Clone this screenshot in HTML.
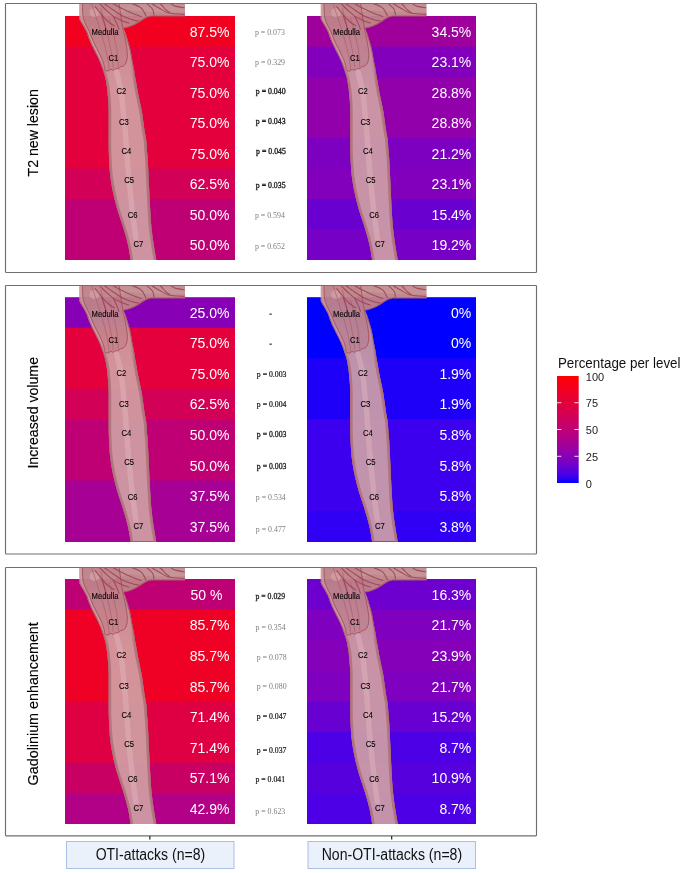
<!DOCTYPE html>
<html><head><meta charset="utf-8"><style>
html,body{margin:0;padding:0;background:#fff;}
body{width:685px;height:873px;overflow:hidden;}
svg{display:block;will-change:transform;}
text{font-family:"Liberation Sans",sans-serif;}
.ser{font-family:"Liberation Serif",serif;}
</style></head><body>
<svg width="685" height="873" viewBox="0 0 685 873">
<defs>
<linearGradient id="cb" x1="0" y1="1" x2="0" y2="0">
<stop offset="0.00" stop-color="#0000FF"/>
<stop offset="0.05" stop-color="#3700F0"/>
<stop offset="0.10" stop-color="#5300E1"/>
<stop offset="0.15" stop-color="#6800D2"/>
<stop offset="0.20" stop-color="#7A00C3"/>
<stop offset="0.25" stop-color="#8800B6"/>
<stop offset="0.30" stop-color="#9500A8"/>
<stop offset="0.35" stop-color="#A0009B"/>
<stop offset="0.40" stop-color="#AC008D"/>
<stop offset="0.45" stop-color="#B50081"/>
<stop offset="0.50" stop-color="#BF0074"/>
<stop offset="0.55" stop-color="#C70069"/>
<stop offset="0.60" stop-color="#CE005D"/>
<stop offset="0.65" stop-color="#D50051"/>
<stop offset="0.70" stop-color="#DC0046"/>
<stop offset="0.75" stop-color="#E3003C"/>
<stop offset="0.80" stop-color="#E90031"/>
<stop offset="0.85" stop-color="#EF0025"/>
<stop offset="0.90" stop-color="#F4001B"/>
<stop offset="0.95" stop-color="#FA000F"/>
<stop offset="1.00" stop-color="#FF0000"/>
</linearGradient>
<linearGradient id="ebc0" gradientUnits="userSpaceOnUse" x1="0" y1="42" x2="0" y2="68"><stop offset="0" stop-color="#b0747c" stop-opacity="0"/><stop offset="1" stop-color="#b0747c" stop-opacity="0.95"/></linearGradient>
<linearGradient id="bgc0" gradientUnits="userSpaceOnUse" x1="0" y1="-13" x2="0" y2="70"><stop offset="0" stop-color="#9c5862" stop-opacity="0.3"/><stop offset="0.6" stop-color="#9c5862" stop-opacity="0.1"/><stop offset="1" stop-color="#9c5862" stop-opacity="0"/></linearGradient>
<clipPath id="c0"><rect x="0" y="-12.0" width="200" height="256.0"/></clipPath>
<linearGradient id="ebc1" gradientUnits="userSpaceOnUse" x1="0" y1="42" x2="0" y2="68"><stop offset="0" stop-color="#b0747c" stop-opacity="0"/><stop offset="1" stop-color="#b0747c" stop-opacity="0.95"/></linearGradient>
<linearGradient id="bgc1" gradientUnits="userSpaceOnUse" x1="0" y1="-13" x2="0" y2="70"><stop offset="0" stop-color="#9c5862" stop-opacity="0.3"/><stop offset="0.6" stop-color="#9c5862" stop-opacity="0.1"/><stop offset="1" stop-color="#9c5862" stop-opacity="0"/></linearGradient>
<clipPath id="c1"><rect x="0" y="-12.0" width="200" height="255.6"/></clipPath>
<linearGradient id="ebc2" gradientUnits="userSpaceOnUse" x1="0" y1="42" x2="0" y2="68"><stop offset="0" stop-color="#b0747c" stop-opacity="0"/><stop offset="1" stop-color="#b0747c" stop-opacity="0.95"/></linearGradient>
<linearGradient id="bgc2" gradientUnits="userSpaceOnUse" x1="0" y1="-13" x2="0" y2="70"><stop offset="0" stop-color="#9c5862" stop-opacity="0.3"/><stop offset="0.6" stop-color="#9c5862" stop-opacity="0.1"/><stop offset="1" stop-color="#9c5862" stop-opacity="0"/></linearGradient>
<clipPath id="c2"><rect x="0" y="-12.0" width="200" height="256.0"/></clipPath>
</defs>
<rect x="5.5" y="3.5" width="531" height="269" rx="0.7" fill="none" stroke="#6f6f6f" stroke-width="1.15"/>
<rect x="65.0" y="16.00" width="170.0" height="244.00" fill="#F10020"/>
<rect x="307.0" y="16.00" width="169.0" height="244.00" fill="#9F009C"/>
<rect x="65.0" y="46.50" width="170.0" height="213.50" fill="#E3003C"/>
<rect x="307.0" y="46.50" width="169.0" height="213.50" fill="#8200BB"/>
<rect x="65.0" y="77.00" width="170.0" height="183.00" fill="#E3003C"/>
<rect x="307.0" y="77.00" width="169.0" height="183.00" fill="#9200AC"/>
<rect x="65.0" y="107.50" width="170.0" height="152.50" fill="#E3003C"/>
<rect x="307.0" y="107.50" width="169.0" height="152.50" fill="#9200AC"/>
<rect x="65.0" y="138.00" width="170.0" height="122.00" fill="#E3003C"/>
<rect x="307.0" y="138.00" width="169.0" height="122.00" fill="#7D00C1"/>
<rect x="65.0" y="168.50" width="170.0" height="91.50" fill="#D20057"/>
<rect x="307.0" y="168.50" width="169.0" height="91.50" fill="#8200BB"/>
<rect x="65.0" y="199.00" width="170.0" height="61.00" fill="#BF0074"/>
<rect x="307.0" y="199.00" width="169.0" height="61.00" fill="#6A00D0"/>
<rect x="65.0" y="229.50" width="170.0" height="30.50" fill="#BF0074"/>
<rect x="307.0" y="229.50" width="169.0" height="30.50" fill="#7600C6"/>
<g transform="translate(65.0,16.0)" clip-path="url(#c0)">
<path d="M14.3,-13.0 C14.3,-10.8 14.2,-2.6 14.3,0.2 C14.3,3.0 14.0,2.2 14.6,3.7 C15.2,5.2 16.9,7.5 18.0,9.4 C19.1,11.3 20.3,13.3 21.2,15.2 C22.1,17.1 22.5,19.0 23.2,20.9 C23.9,22.8 24.7,24.7 25.5,26.6 C26.3,28.5 27.3,30.4 28.3,32.3 C29.2,34.2 30.3,36.2 31.2,38.1 C32.2,40.0 33.1,41.9 34.0,43.8 C34.9,45.7 35.7,47.8 36.4,49.7 C37.1,51.6 37.8,53.5 38.4,55.4 C39.0,57.3 39.7,59.3 40.2,61.2 C40.7,63.1 41.0,65.0 41.3,66.9 C41.6,68.8 42.0,70.7 42.2,72.6 C42.4,74.5 42.5,76.4 42.7,78.3 C42.9,80.2 43.1,81.4 43.3,84.0 C43.5,86.6 43.6,90.3 43.7,94.0 C43.8,97.7 43.7,102.2 43.7,105.9 C43.7,109.6 43.7,111.5 43.7,116.2 C43.7,120.9 43.7,128.5 43.8,134.0 C43.9,139.5 44.1,144.5 44.4,149.0 C44.7,153.5 44.8,156.4 45.4,161.0 C46.0,165.6 46.9,171.1 48.1,176.6 C49.3,182.1 50.8,188.2 52.5,194.0 C54.2,199.8 56.5,205.8 58.3,211.6 C60.1,217.4 61.8,223.3 63.1,229.0 C64.4,234.7 65.5,243.2 66.0,246.0 L91.6,246.0 C91.1,243.2 89.6,234.7 88.7,229.0 C87.8,223.3 87.0,217.4 86.4,211.6 C85.8,205.8 85.5,199.8 85.2,194.0 C84.8,188.2 84.6,182.4 84.3,176.6 C84.0,170.8 83.8,164.8 83.5,159.0 C83.2,153.2 82.9,145.7 82.6,141.5 C82.3,137.3 82.1,136.9 81.9,134.0 C81.7,131.1 81.5,127.0 81.2,124.0 C80.8,121.0 80.3,119.2 79.8,116.2 C79.3,113.2 78.8,109.4 78.3,105.9 C77.8,102.5 77.4,99.0 76.8,95.5 C76.2,92.0 75.4,88.6 74.7,85.2 C74.0,81.8 73.2,78.3 72.6,74.9 C72.0,71.5 71.3,67.2 70.8,64.6 C70.3,61.9 70.1,61.1 69.8,59.0 C69.5,56.9 69.2,54.3 68.8,52.0 C68.4,49.7 67.8,47.3 67.4,45.0 C67.0,42.7 66.7,40.6 66.3,38.4 C65.9,36.1 65.5,33.8 64.9,31.5 C64.3,29.2 63.6,26.9 62.9,24.6 C62.2,22.3 61.5,19.8 60.8,17.7 C60.0,15.6 58.8,13.1 58.4,12.2 C61,11.6 65,10.6 68.5,9 C72,7.4 75,5.5 78,3.3 C80.5,1.5 82.5,0.3 86,0 L120,0 L120,-13 Z" fill="#d0a2a5" fill-opacity="0.91"/>
<path d="M14.3,-13.0 C14.3,-10.8 14.2,-2.6 14.3,0.2 C14.3,3.0 14.0,2.2 14.6,3.7 C15.2,5.2 16.9,7.5 18.0,9.4 C19.1,11.3 20.3,13.3 21.2,15.2 C22.1,17.1 22.5,19.0 23.2,20.9 C23.9,22.8 24.7,24.7 25.5,26.6 C26.3,28.5 27.3,30.4 28.3,32.3 C29.2,34.2 30.3,36.2 31.2,38.1 C32.2,40.0 33.1,41.9 34.0,43.8 C34.9,45.7 35.7,47.8 36.4,49.7 C37.1,51.6 37.8,53.5 38.4,55.4 C39.0,57.3 39.7,59.3 40.2,61.2 C40.7,63.1 41.0,65.0 41.3,66.9 C41.6,68.8 42.0,70.7 42.2,72.6 C42.4,74.5 42.5,76.4 42.7,78.3 C42.9,80.2 43.1,81.4 43.3,84.0 C43.5,86.6 43.6,90.3 43.7,94.0 C43.8,97.7 43.7,102.2 43.7,105.9 C43.7,109.6 43.7,111.5 43.7,116.2 C43.7,120.9 43.7,128.5 43.8,134.0 C43.9,139.5 44.1,144.5 44.4,149.0 C44.7,153.5 44.8,156.4 45.4,161.0 C46.0,165.6 46.9,171.1 48.1,176.6 C49.3,182.1 50.8,188.2 52.5,194.0 C54.2,199.8 56.5,205.8 58.3,211.6 C60.1,217.4 61.8,223.3 63.1,229.0 C64.4,234.7 65.5,243.2 66.0,246.0 L91.6,246.0 C91.1,243.2 89.6,234.7 88.7,229.0 C87.8,223.3 87.0,217.4 86.4,211.6 C85.8,205.8 85.5,199.8 85.2,194.0 C84.8,188.2 84.6,182.4 84.3,176.6 C84.0,170.8 83.8,164.8 83.5,159.0 C83.2,153.2 82.9,145.7 82.6,141.5 C82.3,137.3 82.1,136.9 81.9,134.0 C81.7,131.1 81.5,127.0 81.2,124.0 C80.8,121.0 80.3,119.2 79.8,116.2 C79.3,113.2 78.8,109.4 78.3,105.9 C77.8,102.5 77.4,99.0 76.8,95.5 C76.2,92.0 75.4,88.6 74.7,85.2 C74.0,81.8 73.2,78.3 72.6,74.9 C72.0,71.5 71.3,67.2 70.8,64.6 C70.3,61.9 70.1,61.1 69.8,59.0 C69.5,56.9 69.2,54.3 68.8,52.0 C68.4,49.7 67.8,47.3 67.4,45.0 C67.0,42.7 66.7,40.6 66.3,38.4 C65.9,36.1 65.5,33.8 64.9,31.5 C64.3,29.2 63.6,26.9 62.9,24.6 C62.2,22.3 61.5,19.8 60.8,17.7 C60.0,15.6 58.8,13.1 58.4,12.2 C61,11.6 65,10.6 68.5,9 C72,7.4 75,5.5 78,3.3 C80.5,1.5 82.5,0.3 86,0 L120,0 L120,-13 Z" fill="url(#bgc0)"/>
<ellipse cx="29.5" cy="-3.5" rx="5" ry="4.5" fill="#e6c3c7" fill-opacity="0.55"/>
<path d="M50,-2 C55,3 57,9 58.4,12.2 C61,11.6 65,10.6 68.5,9 C72,7.4 75,5.5 78,3.3 C80.5,1.5 82.5,0.3 86,0 L120,0 L120,-4 C100,-3 80,-4 65,-6 Z" fill="#b46c76" fill-opacity="0.3"/>
<path d="M14.3,-13.0 C14.3,-10.8 14.2,-2.6 14.3,0.2 C14.3,3.0 14.0,2.2 14.6,3.7 C15.2,5.2 16.9,7.5 18.0,9.4 C19.1,11.3 20.3,13.3 21.2,15.2 C22.1,17.1 22.5,19.0 23.2,20.9 C23.9,22.8 24.7,24.7 25.5,26.6 C26.3,28.5 27.3,30.4 28.3,32.3 C29.2,34.2 30.3,36.2 31.2,38.1 C32.2,40.0 33.1,41.9 34.0,43.8 C34.9,45.7 35.7,47.8 36.4,49.7 C37.1,51.6 38.1,54.5 38.4,55.4 L39.6,54.3 C39.5,53.5 39.6,51.5 39.2,49.7 C38.8,48.0 38.0,45.7 37.3,43.8 C36.5,41.9 35.6,40.0 34.7,38.1 C33.8,36.2 32.7,34.2 31.7,32.3 C30.7,30.4 29.7,28.5 28.8,26.6 C27.9,24.7 27.2,22.8 26.4,20.9 C25.6,19.0 25.2,17.3 24.2,15.2 C23.2,13.0 21.5,10.5 20.5,8.0 C19.5,5.5 18.5,3.5 18.0,0.0 C17.5,-3.5 17.6,-10.8 17.5,-13.0 Z" fill="#e8c4c8" fill-opacity="0.2"/>
<path d="M17.5,-13.0 C17.6,-10.8 17.5,-3.5 18.0,0.0 C18.5,3.5 19.5,5.5 20.5,8.0 C21.5,10.5 23.2,13.0 24.2,15.2 C25.2,17.3 25.6,19.0 26.4,20.9 C27.2,22.8 27.9,24.7 28.8,26.6 C29.7,28.5 30.7,30.4 31.7,32.3 C32.7,34.2 33.8,36.2 34.7,38.1 C35.6,40.0 36.5,41.9 37.3,43.8 C38.0,45.7 38.8,48.0 39.2,49.7 C39.6,51.5 39.5,53.5 39.6,54.3 Q42,55.5 44,54.8 Q45,53 46.1,53.3 Q47.5,54.8 49.2,53.8 Q51,52 52.3,52.8 Q54,52.5 55.4,50.7 Q57,50.8 58.5,49.7 Q60.5,48.5 61,46.6 L61.0,46.6 C61.2,45.9 61.9,44.4 62.1,42.5 C62.3,40.6 62.4,38.1 62.1,35.2 C61.8,32.3 61.3,29.1 60.5,24.9 C59.7,20.7 58.6,16.3 57.5,10.0 C56.4,3.7 54.6,-9.2 54.0,-13.0 Z" fill="#b06670" fill-opacity="0.26" stroke="#a65660" stroke-width="1.0"/>
<path d="M26.5,-12.5 Q44.5,39.4 44.0,53.8" fill="none" stroke="#ac5c66" stroke-width="0.8" stroke-opacity="0.8"/>
<path d="M35.8,-8.0 Q48.0,38.1 48.1,51.7" fill="none" stroke="#ac5c66" stroke-width="0.8" stroke-opacity="0.8"/>
<path d="M44.0,2.0 Q53.8,33.4 53.3,51.2" fill="none" stroke="#ac5c66" stroke-width="0.8" stroke-opacity="0.8"/>
<path d="M51.6,56.0 C52.3,59.2 54.9,68.4 56.0,75.0 C57.1,81.6 57.6,88.7 58.3,95.5 C59.0,102.3 59.8,109.6 60.3,116.0 C60.8,122.4 61.0,126.8 61.6,134.0 C62.1,141.2 62.7,149.0 63.6,159.0 C64.5,169.0 66.0,183.5 67.2,194.0 C68.4,204.5 70.2,217.3 70.8,222.0" fill="none" stroke="#e6bcc1" stroke-width="5.5" stroke-opacity="0.4" stroke-linecap="round"/>
<path d="M14.7,0.2 C14.7,0.8 14.4,2.2 15.0,3.7 C15.6,5.2 17.3,7.5 18.4,9.4 C19.5,11.3 20.7,13.3 21.6,15.2 C22.5,17.1 22.9,19.0 23.6,20.9 C24.3,22.8 25.1,24.7 25.9,26.6 C26.7,28.5 27.7,30.4 28.7,32.3 C29.6,34.2 30.7,36.2 31.6,38.1 C32.6,40.0 33.5,41.9 34.4,43.8 C35.3,45.7 36.1,47.8 36.8,49.7 C37.5,51.6 38.2,53.5 38.8,55.4 C39.4,57.3 40.1,59.3 40.6,61.2 C41.1,63.1 41.4,65.0 41.7,66.9 C42.0,68.8 42.4,70.7 42.6,72.6 C42.8,74.5 42.9,76.4 43.1,78.3 C43.3,80.2 43.5,81.4 43.7,84.0 C43.9,86.6 44.0,90.3 44.1,94.0 C44.2,97.7 44.1,102.2 44.1,105.9 C44.1,109.6 44.1,111.5 44.1,116.2 C44.1,120.9 44.1,128.5 44.2,134.0 C44.3,139.5 44.5,144.5 44.8,149.0 C45.1,153.5 45.2,156.4 45.8,161.0 C46.4,165.6 47.3,171.1 48.5,176.6 C49.7,182.1 51.2,188.2 52.9,194.0 C54.6,199.8 56.9,205.8 58.7,211.6 C60.5,217.4 62.2,223.3 63.5,229.0 C64.8,234.7 65.9,243.2 66.4,246.0" fill="none" stroke="#9e5660" stroke-width="1.0" stroke-opacity="0.9"/>
<path d="M91.2,246.0 C90.7,243.2 89.2,234.7 88.3,229.0 C87.4,223.3 86.6,217.4 86.0,211.6 C85.4,205.8 85.1,199.8 84.8,194.0 C84.4,188.2 84.2,182.4 83.9,176.6 C83.6,170.8 83.4,164.8 83.1,159.0 C82.8,153.2 82.5,145.7 82.2,141.5 C81.9,137.3 81.7,136.9 81.5,134.0 C81.3,131.1 81.1,127.0 80.8,124.0 C80.4,121.0 79.9,119.2 79.4,116.2 C78.9,113.2 78.4,109.4 77.9,105.9 C77.4,102.5 77.0,99.0 76.4,95.5 C75.8,92.0 75.0,88.6 74.3,85.2 C73.6,81.8 72.8,78.3 72.2,74.9 C71.5,71.5 70.9,67.2 70.4,64.6 C69.9,61.9 69.7,61.1 69.4,59.0 C69.1,56.9 68.8,54.3 68.4,52.0 C68.0,49.7 67.4,47.3 67.0,45.0 C66.6,42.7 66.3,40.6 65.9,38.4 C65.5,36.1 65.1,33.8 64.5,31.5 C63.9,29.2 63.2,26.9 62.5,24.6 C61.8,22.3 60.8,18.9 60.4,17.7" fill="none" stroke="#9e5660" stroke-width="1.0" stroke-opacity="0.9"/>
<path d="M32.5,38.1 C32.9,39.0 34.4,41.9 35.2,43.8 C36.1,45.7 36.9,47.8 37.7,49.7 C38.4,51.6 39.0,53.5 39.7,55.4 C40.3,57.3 41.0,59.3 41.5,61.2 C41.9,63.1 42.2,65.0 42.5,66.9 C42.9,68.8 43.2,70.7 43.5,72.6 C43.7,74.5 43.8,76.4 44.0,78.3 C44.1,80.2 44.4,81.4 44.5,84.0 C44.7,86.6 44.9,90.3 45.0,94.0 C45.0,97.7 45.0,102.2 45.0,105.9 C45.0,109.6 44.9,111.5 45.0,116.2 C45.0,120.9 44.9,128.5 45.0,134.0 C45.2,139.5 45.4,144.5 45.7,149.0 C45.9,153.5 46.0,156.4 46.7,161.0 C47.3,165.6 48.2,171.1 49.3,176.6 C50.5,182.1 52.0,188.2 53.8,194.0 C55.5,199.8 57.8,205.8 59.5,211.6 C61.3,217.4 63.1,223.3 64.3,229.0 C65.6,234.7 66.8,243.2 67.2,246.0" fill="none" stroke="url(#ebc0)" stroke-width="2.5"/>
<path d="M90.3,246.0 C89.8,243.2 88.3,234.7 87.4,229.0 C86.5,223.3 85.7,217.4 85.1,211.6 C84.5,205.8 84.2,199.8 83.9,194.0 C83.5,188.2 83.3,182.4 83.0,176.6 C82.7,170.8 82.5,164.8 82.2,159.0 C81.9,153.2 81.6,145.7 81.3,141.5 C81.0,137.3 80.8,136.9 80.6,134.0 C80.4,131.1 80.2,127.0 79.9,124.0 C79.5,121.0 79.0,119.2 78.5,116.2 C78.0,113.2 77.5,109.4 77.0,105.9 C76.5,102.5 76.1,99.0 75.5,95.5 C74.9,92.0 74.1,88.6 73.4,85.2 C72.7,81.8 71.9,78.3 71.3,74.9 C70.7,71.5 70.0,67.2 69.5,64.6 C69.0,61.9 68.8,61.1 68.5,59.0 C68.2,56.9 67.9,54.3 67.5,52.0 C67.1,49.7 66.5,47.3 66.1,45.0 C65.7,42.7 65.2,39.5 65.0,38.4" fill="none" stroke="url(#ebc0)" stroke-width="2.6"/>
<path d="M58.4,12.2 C61,11.6 65,10.6 68.5,9 C72,7.4 75,5.5 78,3.3 C80.5,1.5 82.5,0.3 86,0 L120,0" fill="none" stroke="#ac5c66" stroke-width="1.2"/>
<path d="M30.0,-9.6 C31.0,-8.4 33.7,-4.7 35.8,-2.3 C37.9,0.1 40.1,2.9 42.4,5.0 C44.7,7.1 48.5,9.2 49.7,10.1" fill="none" stroke="#a03e50" stroke-width="1.1" stroke-opacity="0.85"/>
<path d="M33.0,-13.0 C33.4,-12.8 33.8,-13.0 35.1,-11.8 C36.4,-10.6 38.7,-8.1 41.0,-6.0 C43.3,-3.9 46.2,-1.2 49.0,0.6 C51.8,2.4 55.2,3.9 57.7,5.0 C60.2,6.1 63.2,6.8 64.3,7.2" fill="none" stroke="#a03e50" stroke-width="1.1" stroke-opacity="0.85"/>
<path d="M38.0,-13.0 C38.4,-12.8 38.5,-13.0 40.2,-11.8 C41.9,-10.6 45.3,-8.0 48.2,-6.0 C51.1,-4.0 54.4,-1.8 57.7,-0.1 C61.0,1.6 65.3,3.0 68.0,3.9 C70.7,4.8 72.8,4.8 73.8,5.0" fill="none" stroke="#a03e50" stroke-width="1.1" stroke-opacity="0.85"/>
<path d="M47.0,-13.0 C47.3,-12.8 47.3,-12.7 49.0,-11.8 C50.7,-10.9 54.1,-8.9 57.0,-7.4 C59.9,-5.9 63.2,-4.3 66.5,-3.0 C69.8,-1.7 75.0,0.0 76.7,0.6" fill="none" stroke="#a03e50" stroke-width="1.1" stroke-opacity="0.85"/>
<path d="M64.0,-13.0 C64.4,-12.9 64.9,-13.1 66.5,-12.5 C68.1,-11.9 72.0,-10.6 73.8,-9.6 C75.6,-8.6 76.2,-8.3 77.4,-6.7 C78.6,-5.1 80.4,-1.2 81.0,-0.1" fill="none" stroke="#a03e50" stroke-width="1.1" stroke-opacity="0.85"/>
<path d="M81.0,-13.0 C81.2,-12.8 81.4,-12.9 82.5,-11.8 C83.6,-10.8 86.5,-8.5 87.6,-6.7 C88.7,-4.9 88.8,-1.9 89.0,-0.9" fill="none" stroke="#a03e50" stroke-width="1.1" stroke-opacity="0.85"/>
<path d="M86.0,-13.0 C86.3,-12.8 86.1,-12.7 87.6,-11.8 C89.1,-10.9 92.2,-8.9 94.9,-7.4 C97.6,-5.9 99.6,-4.0 103.7,-3.0 C107.8,-2.0 117.0,-1.8 119.7,-1.6" fill="none" stroke="#a03e50" stroke-width="1.1" stroke-opacity="0.85"/>
<path d="M94.0,-13.0 C94.5,-12.6 95.8,-11.7 97.0,-10.5 C98.2,-9.3 99.7,-7.2 101.0,-6.0 C102.3,-4.8 104.3,-3.9 105.0,-3.5" fill="none" stroke="#a03e50" stroke-width="1.1" stroke-opacity="0.85"/>
<path d="M105.0,-13.0 C105.3,-12.8 105.6,-12.4 106.6,-11.8 C107.6,-11.2 108.8,-10.2 111.0,-9.6 C113.2,-9.0 118.2,-8.4 119.7,-8.2" fill="none" stroke="#a03e50" stroke-width="1.1" stroke-opacity="0.85"/>
<path d="M36.6,-0.9 C37.1,0.6 38.8,5.5 39.5,7.9 C40.2,10.3 40.8,12.7 41.0,13.7" fill="none" stroke="#a03e50" stroke-width="1.1" stroke-opacity="0.85"/>
<path d="M48.2,-0.1 C48.8,1.2 50.9,5.6 51.9,7.9 C52.9,10.2 53.6,12.7 54.0,13.7" fill="none" stroke="#a03e50" stroke-width="1.1" stroke-opacity="0.85"/>
</g>
<g transform="translate(306.5,16.0)" clip-path="url(#c0)">
<path d="M14.3,-13.0 C14.3,-10.8 14.2,-2.6 14.3,0.2 C14.3,3.0 14.0,2.2 14.6,3.7 C15.2,5.2 16.9,7.5 18.0,9.4 C19.1,11.3 20.3,13.3 21.2,15.2 C22.1,17.1 22.5,19.0 23.2,20.9 C23.9,22.8 24.7,24.7 25.5,26.6 C26.3,28.5 27.3,30.4 28.3,32.3 C29.2,34.2 30.3,36.2 31.2,38.1 C32.2,40.0 33.1,41.9 34.0,43.8 C34.9,45.7 35.7,47.8 36.4,49.7 C37.1,51.6 37.8,53.5 38.4,55.4 C39.0,57.3 39.7,59.3 40.2,61.2 C40.7,63.1 41.0,65.0 41.3,66.9 C41.6,68.8 42.0,70.7 42.2,72.6 C42.4,74.5 42.5,76.4 42.7,78.3 C42.9,80.2 43.1,81.4 43.3,84.0 C43.5,86.6 43.6,90.3 43.7,94.0 C43.8,97.7 43.7,102.2 43.7,105.9 C43.7,109.6 43.7,111.5 43.7,116.2 C43.7,120.9 43.7,128.5 43.8,134.0 C43.9,139.5 44.1,144.5 44.4,149.0 C44.7,153.5 44.8,156.4 45.4,161.0 C46.0,165.6 46.9,171.1 48.1,176.6 C49.3,182.1 50.8,188.2 52.5,194.0 C54.2,199.8 56.5,205.8 58.3,211.6 C60.1,217.4 61.8,223.3 63.1,229.0 C64.4,234.7 65.5,243.2 66.0,246.0 L91.6,246.0 C91.1,243.2 89.6,234.7 88.7,229.0 C87.8,223.3 87.0,217.4 86.4,211.6 C85.8,205.8 85.5,199.8 85.2,194.0 C84.8,188.2 84.6,182.4 84.3,176.6 C84.0,170.8 83.8,164.8 83.5,159.0 C83.2,153.2 82.9,145.7 82.6,141.5 C82.3,137.3 82.1,136.9 81.9,134.0 C81.7,131.1 81.5,127.0 81.2,124.0 C80.8,121.0 80.3,119.2 79.8,116.2 C79.3,113.2 78.8,109.4 78.3,105.9 C77.8,102.5 77.4,99.0 76.8,95.5 C76.2,92.0 75.4,88.6 74.7,85.2 C74.0,81.8 73.2,78.3 72.6,74.9 C72.0,71.5 71.3,67.2 70.8,64.6 C70.3,61.9 70.1,61.1 69.8,59.0 C69.5,56.9 69.2,54.3 68.8,52.0 C68.4,49.7 67.8,47.3 67.4,45.0 C67.0,42.7 66.7,40.6 66.3,38.4 C65.9,36.1 65.5,33.8 64.9,31.5 C64.3,29.2 63.6,26.9 62.9,24.6 C62.2,22.3 61.5,19.8 60.8,17.7 C60.0,15.6 58.8,13.1 58.4,12.2 C61,11.6 65,10.6 68.5,9 C72,7.4 75,5.5 78,3.3 C80.5,1.5 82.5,0.3 86,0 L120,0 L120,-13 Z" fill="#d0a2a5" fill-opacity="0.91"/>
<path d="M14.3,-13.0 C14.3,-10.8 14.2,-2.6 14.3,0.2 C14.3,3.0 14.0,2.2 14.6,3.7 C15.2,5.2 16.9,7.5 18.0,9.4 C19.1,11.3 20.3,13.3 21.2,15.2 C22.1,17.1 22.5,19.0 23.2,20.9 C23.9,22.8 24.7,24.7 25.5,26.6 C26.3,28.5 27.3,30.4 28.3,32.3 C29.2,34.2 30.3,36.2 31.2,38.1 C32.2,40.0 33.1,41.9 34.0,43.8 C34.9,45.7 35.7,47.8 36.4,49.7 C37.1,51.6 37.8,53.5 38.4,55.4 C39.0,57.3 39.7,59.3 40.2,61.2 C40.7,63.1 41.0,65.0 41.3,66.9 C41.6,68.8 42.0,70.7 42.2,72.6 C42.4,74.5 42.5,76.4 42.7,78.3 C42.9,80.2 43.1,81.4 43.3,84.0 C43.5,86.6 43.6,90.3 43.7,94.0 C43.8,97.7 43.7,102.2 43.7,105.9 C43.7,109.6 43.7,111.5 43.7,116.2 C43.7,120.9 43.7,128.5 43.8,134.0 C43.9,139.5 44.1,144.5 44.4,149.0 C44.7,153.5 44.8,156.4 45.4,161.0 C46.0,165.6 46.9,171.1 48.1,176.6 C49.3,182.1 50.8,188.2 52.5,194.0 C54.2,199.8 56.5,205.8 58.3,211.6 C60.1,217.4 61.8,223.3 63.1,229.0 C64.4,234.7 65.5,243.2 66.0,246.0 L91.6,246.0 C91.1,243.2 89.6,234.7 88.7,229.0 C87.8,223.3 87.0,217.4 86.4,211.6 C85.8,205.8 85.5,199.8 85.2,194.0 C84.8,188.2 84.6,182.4 84.3,176.6 C84.0,170.8 83.8,164.8 83.5,159.0 C83.2,153.2 82.9,145.7 82.6,141.5 C82.3,137.3 82.1,136.9 81.9,134.0 C81.7,131.1 81.5,127.0 81.2,124.0 C80.8,121.0 80.3,119.2 79.8,116.2 C79.3,113.2 78.8,109.4 78.3,105.9 C77.8,102.5 77.4,99.0 76.8,95.5 C76.2,92.0 75.4,88.6 74.7,85.2 C74.0,81.8 73.2,78.3 72.6,74.9 C72.0,71.5 71.3,67.2 70.8,64.6 C70.3,61.9 70.1,61.1 69.8,59.0 C69.5,56.9 69.2,54.3 68.8,52.0 C68.4,49.7 67.8,47.3 67.4,45.0 C67.0,42.7 66.7,40.6 66.3,38.4 C65.9,36.1 65.5,33.8 64.9,31.5 C64.3,29.2 63.6,26.9 62.9,24.6 C62.2,22.3 61.5,19.8 60.8,17.7 C60.0,15.6 58.8,13.1 58.4,12.2 C61,11.6 65,10.6 68.5,9 C72,7.4 75,5.5 78,3.3 C80.5,1.5 82.5,0.3 86,0 L120,0 L120,-13 Z" fill="url(#bgc0)"/>
<ellipse cx="29.5" cy="-3.5" rx="5" ry="4.5" fill="#e6c3c7" fill-opacity="0.55"/>
<path d="M50,-2 C55,3 57,9 58.4,12.2 C61,11.6 65,10.6 68.5,9 C72,7.4 75,5.5 78,3.3 C80.5,1.5 82.5,0.3 86,0 L120,0 L120,-4 C100,-3 80,-4 65,-6 Z" fill="#b46c76" fill-opacity="0.3"/>
<path d="M14.3,-13.0 C14.3,-10.8 14.2,-2.6 14.3,0.2 C14.3,3.0 14.0,2.2 14.6,3.7 C15.2,5.2 16.9,7.5 18.0,9.4 C19.1,11.3 20.3,13.3 21.2,15.2 C22.1,17.1 22.5,19.0 23.2,20.9 C23.9,22.8 24.7,24.7 25.5,26.6 C26.3,28.5 27.3,30.4 28.3,32.3 C29.2,34.2 30.3,36.2 31.2,38.1 C32.2,40.0 33.1,41.9 34.0,43.8 C34.9,45.7 35.7,47.8 36.4,49.7 C37.1,51.6 38.1,54.5 38.4,55.4 L39.6,54.3 C39.5,53.5 39.6,51.5 39.2,49.7 C38.8,48.0 38.0,45.7 37.3,43.8 C36.5,41.9 35.6,40.0 34.7,38.1 C33.8,36.2 32.7,34.2 31.7,32.3 C30.7,30.4 29.7,28.5 28.8,26.6 C27.9,24.7 27.2,22.8 26.4,20.9 C25.6,19.0 25.2,17.3 24.2,15.2 C23.2,13.0 21.5,10.5 20.5,8.0 C19.5,5.5 18.5,3.5 18.0,0.0 C17.5,-3.5 17.6,-10.8 17.5,-13.0 Z" fill="#e8c4c8" fill-opacity="0.2"/>
<path d="M17.5,-13.0 C17.6,-10.8 17.5,-3.5 18.0,0.0 C18.5,3.5 19.5,5.5 20.5,8.0 C21.5,10.5 23.2,13.0 24.2,15.2 C25.2,17.3 25.6,19.0 26.4,20.9 C27.2,22.8 27.9,24.7 28.8,26.6 C29.7,28.5 30.7,30.4 31.7,32.3 C32.7,34.2 33.8,36.2 34.7,38.1 C35.6,40.0 36.5,41.9 37.3,43.8 C38.0,45.7 38.8,48.0 39.2,49.7 C39.6,51.5 39.5,53.5 39.6,54.3 Q42,55.5 44,54.8 Q45,53 46.1,53.3 Q47.5,54.8 49.2,53.8 Q51,52 52.3,52.8 Q54,52.5 55.4,50.7 Q57,50.8 58.5,49.7 Q60.5,48.5 61,46.6 L61.0,46.6 C61.2,45.9 61.9,44.4 62.1,42.5 C62.3,40.6 62.4,38.1 62.1,35.2 C61.8,32.3 61.3,29.1 60.5,24.9 C59.7,20.7 58.6,16.3 57.5,10.0 C56.4,3.7 54.6,-9.2 54.0,-13.0 Z" fill="#b06670" fill-opacity="0.26" stroke="#a65660" stroke-width="1.0"/>
<path d="M26.5,-12.5 Q44.5,39.4 44.0,53.8" fill="none" stroke="#ac5c66" stroke-width="0.8" stroke-opacity="0.8"/>
<path d="M35.8,-8.0 Q48.0,38.1 48.1,51.7" fill="none" stroke="#ac5c66" stroke-width="0.8" stroke-opacity="0.8"/>
<path d="M44.0,2.0 Q53.8,33.4 53.3,51.2" fill="none" stroke="#ac5c66" stroke-width="0.8" stroke-opacity="0.8"/>
<path d="M51.6,56.0 C52.3,59.2 54.9,68.4 56.0,75.0 C57.1,81.6 57.6,88.7 58.3,95.5 C59.0,102.3 59.8,109.6 60.3,116.0 C60.8,122.4 61.0,126.8 61.6,134.0 C62.1,141.2 62.7,149.0 63.6,159.0 C64.5,169.0 66.0,183.5 67.2,194.0 C68.4,204.5 70.2,217.3 70.8,222.0" fill="none" stroke="#e6bcc1" stroke-width="5.5" stroke-opacity="0.4" stroke-linecap="round"/>
<path d="M14.7,0.2 C14.7,0.8 14.4,2.2 15.0,3.7 C15.6,5.2 17.3,7.5 18.4,9.4 C19.5,11.3 20.7,13.3 21.6,15.2 C22.5,17.1 22.9,19.0 23.6,20.9 C24.3,22.8 25.1,24.7 25.9,26.6 C26.7,28.5 27.7,30.4 28.7,32.3 C29.6,34.2 30.7,36.2 31.6,38.1 C32.6,40.0 33.5,41.9 34.4,43.8 C35.3,45.7 36.1,47.8 36.8,49.7 C37.5,51.6 38.2,53.5 38.8,55.4 C39.4,57.3 40.1,59.3 40.6,61.2 C41.1,63.1 41.4,65.0 41.7,66.9 C42.0,68.8 42.4,70.7 42.6,72.6 C42.8,74.5 42.9,76.4 43.1,78.3 C43.3,80.2 43.5,81.4 43.7,84.0 C43.9,86.6 44.0,90.3 44.1,94.0 C44.2,97.7 44.1,102.2 44.1,105.9 C44.1,109.6 44.1,111.5 44.1,116.2 C44.1,120.9 44.1,128.5 44.2,134.0 C44.3,139.5 44.5,144.5 44.8,149.0 C45.1,153.5 45.2,156.4 45.8,161.0 C46.4,165.6 47.3,171.1 48.5,176.6 C49.7,182.1 51.2,188.2 52.9,194.0 C54.6,199.8 56.9,205.8 58.7,211.6 C60.5,217.4 62.2,223.3 63.5,229.0 C64.8,234.7 65.9,243.2 66.4,246.0" fill="none" stroke="#9e5660" stroke-width="1.0" stroke-opacity="0.9"/>
<path d="M91.2,246.0 C90.7,243.2 89.2,234.7 88.3,229.0 C87.4,223.3 86.6,217.4 86.0,211.6 C85.4,205.8 85.1,199.8 84.8,194.0 C84.4,188.2 84.2,182.4 83.9,176.6 C83.6,170.8 83.4,164.8 83.1,159.0 C82.8,153.2 82.5,145.7 82.2,141.5 C81.9,137.3 81.7,136.9 81.5,134.0 C81.3,131.1 81.1,127.0 80.8,124.0 C80.4,121.0 79.9,119.2 79.4,116.2 C78.9,113.2 78.4,109.4 77.9,105.9 C77.4,102.5 77.0,99.0 76.4,95.5 C75.8,92.0 75.0,88.6 74.3,85.2 C73.6,81.8 72.8,78.3 72.2,74.9 C71.5,71.5 70.9,67.2 70.4,64.6 C69.9,61.9 69.7,61.1 69.4,59.0 C69.1,56.9 68.8,54.3 68.4,52.0 C68.0,49.7 67.4,47.3 67.0,45.0 C66.6,42.7 66.3,40.6 65.9,38.4 C65.5,36.1 65.1,33.8 64.5,31.5 C63.9,29.2 63.2,26.9 62.5,24.6 C61.8,22.3 60.8,18.9 60.4,17.7" fill="none" stroke="#9e5660" stroke-width="1.0" stroke-opacity="0.9"/>
<path d="M32.5,38.1 C32.9,39.0 34.4,41.9 35.2,43.8 C36.1,45.7 36.9,47.8 37.7,49.7 C38.4,51.6 39.0,53.5 39.7,55.4 C40.3,57.3 41.0,59.3 41.5,61.2 C41.9,63.1 42.2,65.0 42.5,66.9 C42.9,68.8 43.2,70.7 43.5,72.6 C43.7,74.5 43.8,76.4 44.0,78.3 C44.1,80.2 44.4,81.4 44.5,84.0 C44.7,86.6 44.9,90.3 45.0,94.0 C45.0,97.7 45.0,102.2 45.0,105.9 C45.0,109.6 44.9,111.5 45.0,116.2 C45.0,120.9 44.9,128.5 45.0,134.0 C45.2,139.5 45.4,144.5 45.7,149.0 C45.9,153.5 46.0,156.4 46.7,161.0 C47.3,165.6 48.2,171.1 49.3,176.6 C50.5,182.1 52.0,188.2 53.8,194.0 C55.5,199.8 57.8,205.8 59.5,211.6 C61.3,217.4 63.1,223.3 64.3,229.0 C65.6,234.7 66.8,243.2 67.2,246.0" fill="none" stroke="url(#ebc0)" stroke-width="2.5"/>
<path d="M90.3,246.0 C89.8,243.2 88.3,234.7 87.4,229.0 C86.5,223.3 85.7,217.4 85.1,211.6 C84.5,205.8 84.2,199.8 83.9,194.0 C83.5,188.2 83.3,182.4 83.0,176.6 C82.7,170.8 82.5,164.8 82.2,159.0 C81.9,153.2 81.6,145.7 81.3,141.5 C81.0,137.3 80.8,136.9 80.6,134.0 C80.4,131.1 80.2,127.0 79.9,124.0 C79.5,121.0 79.0,119.2 78.5,116.2 C78.0,113.2 77.5,109.4 77.0,105.9 C76.5,102.5 76.1,99.0 75.5,95.5 C74.9,92.0 74.1,88.6 73.4,85.2 C72.7,81.8 71.9,78.3 71.3,74.9 C70.7,71.5 70.0,67.2 69.5,64.6 C69.0,61.9 68.8,61.1 68.5,59.0 C68.2,56.9 67.9,54.3 67.5,52.0 C67.1,49.7 66.5,47.3 66.1,45.0 C65.7,42.7 65.2,39.5 65.0,38.4" fill="none" stroke="url(#ebc0)" stroke-width="2.6"/>
<path d="M58.4,12.2 C61,11.6 65,10.6 68.5,9 C72,7.4 75,5.5 78,3.3 C80.5,1.5 82.5,0.3 86,0 L120,0" fill="none" stroke="#ac5c66" stroke-width="1.2"/>
<path d="M30.0,-9.6 C31.0,-8.4 33.7,-4.7 35.8,-2.3 C37.9,0.1 40.1,2.9 42.4,5.0 C44.7,7.1 48.5,9.2 49.7,10.1" fill="none" stroke="#a03e50" stroke-width="1.1" stroke-opacity="0.85"/>
<path d="M33.0,-13.0 C33.4,-12.8 33.8,-13.0 35.1,-11.8 C36.4,-10.6 38.7,-8.1 41.0,-6.0 C43.3,-3.9 46.2,-1.2 49.0,0.6 C51.8,2.4 55.2,3.9 57.7,5.0 C60.2,6.1 63.2,6.8 64.3,7.2" fill="none" stroke="#a03e50" stroke-width="1.1" stroke-opacity="0.85"/>
<path d="M38.0,-13.0 C38.4,-12.8 38.5,-13.0 40.2,-11.8 C41.9,-10.6 45.3,-8.0 48.2,-6.0 C51.1,-4.0 54.4,-1.8 57.7,-0.1 C61.0,1.6 65.3,3.0 68.0,3.9 C70.7,4.8 72.8,4.8 73.8,5.0" fill="none" stroke="#a03e50" stroke-width="1.1" stroke-opacity="0.85"/>
<path d="M47.0,-13.0 C47.3,-12.8 47.3,-12.7 49.0,-11.8 C50.7,-10.9 54.1,-8.9 57.0,-7.4 C59.9,-5.9 63.2,-4.3 66.5,-3.0 C69.8,-1.7 75.0,0.0 76.7,0.6" fill="none" stroke="#a03e50" stroke-width="1.1" stroke-opacity="0.85"/>
<path d="M64.0,-13.0 C64.4,-12.9 64.9,-13.1 66.5,-12.5 C68.1,-11.9 72.0,-10.6 73.8,-9.6 C75.6,-8.6 76.2,-8.3 77.4,-6.7 C78.6,-5.1 80.4,-1.2 81.0,-0.1" fill="none" stroke="#a03e50" stroke-width="1.1" stroke-opacity="0.85"/>
<path d="M81.0,-13.0 C81.2,-12.8 81.4,-12.9 82.5,-11.8 C83.6,-10.8 86.5,-8.5 87.6,-6.7 C88.7,-4.9 88.8,-1.9 89.0,-0.9" fill="none" stroke="#a03e50" stroke-width="1.1" stroke-opacity="0.85"/>
<path d="M86.0,-13.0 C86.3,-12.8 86.1,-12.7 87.6,-11.8 C89.1,-10.9 92.2,-8.9 94.9,-7.4 C97.6,-5.9 99.6,-4.0 103.7,-3.0 C107.8,-2.0 117.0,-1.8 119.7,-1.6" fill="none" stroke="#a03e50" stroke-width="1.1" stroke-opacity="0.85"/>
<path d="M94.0,-13.0 C94.5,-12.6 95.8,-11.7 97.0,-10.5 C98.2,-9.3 99.7,-7.2 101.0,-6.0 C102.3,-4.8 104.3,-3.9 105.0,-3.5" fill="none" stroke="#a03e50" stroke-width="1.1" stroke-opacity="0.85"/>
<path d="M105.0,-13.0 C105.3,-12.8 105.6,-12.4 106.6,-11.8 C107.6,-11.2 108.8,-10.2 111.0,-9.6 C113.2,-9.0 118.2,-8.4 119.7,-8.2" fill="none" stroke="#a03e50" stroke-width="1.1" stroke-opacity="0.85"/>
<path d="M36.6,-0.9 C37.1,0.6 38.8,5.5 39.5,7.9 C40.2,10.3 40.8,12.7 41.0,13.7" fill="none" stroke="#a03e50" stroke-width="1.1" stroke-opacity="0.85"/>
<path d="M48.2,-0.1 C48.8,1.2 50.9,5.6 51.9,7.9 C52.9,10.2 53.6,12.7 54.0,13.7" fill="none" stroke="#a03e50" stroke-width="1.1" stroke-opacity="0.85"/>
</g>
<text x="0" y="0" transform="translate(105.0,34.8) scale(0.96,1.18)" font-size="8" text-anchor="middle" fill="#000" stroke="#000" stroke-width="0.1">Medulla</text>
<text x="0" y="0" transform="translate(113.3,61.0) scale(0.96,1.18)" font-size="8" text-anchor="middle" fill="#000" stroke="#000" stroke-width="0.1">C1</text>
<text x="0" y="0" transform="translate(121.4,93.5) scale(0.96,1.18)" font-size="8" text-anchor="middle" fill="#000" stroke="#000" stroke-width="0.1">C2</text>
<text x="0" y="0" transform="translate(123.8,125.4) scale(0.96,1.18)" font-size="8" text-anchor="middle" fill="#000" stroke="#000" stroke-width="0.1">C3</text>
<text x="0" y="0" transform="translate(126.4,154.2) scale(0.96,1.18)" font-size="8" text-anchor="middle" fill="#000" stroke="#000" stroke-width="0.1">C4</text>
<text x="0" y="0" transform="translate(129.2,182.8) scale(0.96,1.18)" font-size="8" text-anchor="middle" fill="#000" stroke="#000" stroke-width="0.1">C5</text>
<text x="0" y="0" transform="translate(132.6,217.8) scale(0.96,1.18)" font-size="8" text-anchor="middle" fill="#000" stroke="#000" stroke-width="0.1">C6</text>
<text x="0" y="0" transform="translate(138.4,246.8) scale(0.96,1.18)" font-size="8" text-anchor="middle" fill="#000" stroke="#000" stroke-width="0.1">C7</text>
<text x="0" y="0" transform="translate(346.5,34.8) scale(0.96,1.18)" font-size="8" text-anchor="middle" fill="#000" stroke="#000" stroke-width="0.1">Medulla</text>
<text x="0" y="0" transform="translate(354.8,61.0) scale(0.96,1.18)" font-size="8" text-anchor="middle" fill="#000" stroke="#000" stroke-width="0.1">C1</text>
<text x="0" y="0" transform="translate(362.9,93.5) scale(0.96,1.18)" font-size="8" text-anchor="middle" fill="#000" stroke="#000" stroke-width="0.1">C2</text>
<text x="0" y="0" transform="translate(365.3,125.4) scale(0.96,1.18)" font-size="8" text-anchor="middle" fill="#000" stroke="#000" stroke-width="0.1">C3</text>
<text x="0" y="0" transform="translate(367.9,154.2) scale(0.96,1.18)" font-size="8" text-anchor="middle" fill="#000" stroke="#000" stroke-width="0.1">C4</text>
<text x="0" y="0" transform="translate(370.7,182.8) scale(0.96,1.18)" font-size="8" text-anchor="middle" fill="#000" stroke="#000" stroke-width="0.1">C5</text>
<text x="0" y="0" transform="translate(374.1,217.8) scale(0.96,1.18)" font-size="8" text-anchor="middle" fill="#000" stroke="#000" stroke-width="0.1">C6</text>
<text x="0" y="0" transform="translate(379.9,246.8) scale(0.96,1.18)" font-size="8" text-anchor="middle" fill="#000" stroke="#000" stroke-width="0.1">C7</text>
<text x="229.5" y="36.5" font-size="14" text-anchor="end" fill="#fff">87.5%</text>
<text x="471.3" y="36.5" font-size="14" text-anchor="end" fill="#fff">34.5%</text>
<text class="ser" x="269.9" y="35.0" font-size="8.4" text-anchor="middle" textLength="30" lengthAdjust="spacingAndGlyphs" fill="#7e7e7e">p = 0.073</text>
<text x="229.5" y="67.0" font-size="14" text-anchor="end" fill="#fff">75.0%</text>
<text x="471.3" y="67.0" font-size="14" text-anchor="end" fill="#fff">23.1%</text>
<text class="ser" x="270" y="64.9" font-size="8.4" text-anchor="middle" textLength="30" lengthAdjust="spacingAndGlyphs" fill="#7e7e7e">p = 0.329</text>
<text x="229.5" y="97.5" font-size="14" text-anchor="end" fill="#fff">75.0%</text>
<text x="471.3" y="97.5" font-size="14" text-anchor="end" fill="#fff">28.8%</text>
<text class="ser" x="270.7" y="94.2" font-size="8.4" text-anchor="middle" textLength="29.8" lengthAdjust="spacingAndGlyphs" fill="#222" stroke="#222" stroke-width="0.35">p = 0.040</text>
<text x="229.5" y="128.1" font-size="14" text-anchor="end" fill="#fff">75.0%</text>
<text x="471.3" y="128.1" font-size="14" text-anchor="end" fill="#fff">28.8%</text>
<text class="ser" x="270.7" y="124.4" font-size="8.4" text-anchor="middle" textLength="29.8" lengthAdjust="spacingAndGlyphs" fill="#222" stroke="#222" stroke-width="0.35">p = 0.043</text>
<text x="229.5" y="158.6" font-size="14" text-anchor="end" fill="#fff">75.0%</text>
<text x="471.3" y="158.6" font-size="14" text-anchor="end" fill="#fff">21.2%</text>
<text class="ser" x="271" y="154.2" font-size="8.4" text-anchor="middle" textLength="29.8" lengthAdjust="spacingAndGlyphs" fill="#222" stroke="#222" stroke-width="0.35">p = 0.045</text>
<text x="229.5" y="189.1" font-size="14" text-anchor="end" fill="#fff">62.5%</text>
<text x="471.3" y="189.1" font-size="14" text-anchor="end" fill="#fff">23.1%</text>
<text class="ser" x="270.7" y="188.3" font-size="8.4" text-anchor="middle" textLength="29.8" lengthAdjust="spacingAndGlyphs" fill="#222" stroke="#222" stroke-width="0.35">p = 0.035</text>
<text x="229.5" y="219.6" font-size="14" text-anchor="end" fill="#fff">50.0%</text>
<text x="471.3" y="219.6" font-size="14" text-anchor="end" fill="#fff">15.4%</text>
<text class="ser" x="269.9" y="217.6" font-size="8.4" text-anchor="middle" textLength="30" lengthAdjust="spacingAndGlyphs" fill="#7e7e7e">p = 0.594</text>
<text x="229.5" y="250.1" font-size="14" text-anchor="end" fill="#fff">50.0%</text>
<text x="471.3" y="250.1" font-size="14" text-anchor="end" fill="#fff">19.2%</text>
<text class="ser" x="269.9" y="249.2" font-size="8.4" text-anchor="middle" textLength="30" lengthAdjust="spacingAndGlyphs" fill="#7e7e7e">p = 0.652</text>
<text x="0" y="0" font-size="15" text-anchor="middle" textLength="87.2" lengthAdjust="spacingAndGlyphs" fill="#000" stroke="#000" stroke-width="0.15" transform="translate(37.6,132.85) rotate(-90)">T2 new lesion</text>
<rect x="5.5" y="285.5" width="531" height="268.5" rx="0.7" fill="none" stroke="#6f6f6f" stroke-width="1.15"/>
<rect x="65.0" y="297.20" width="170.0" height="244.40" fill="#8800B6"/>
<rect x="307.0" y="297.20" width="169.0" height="244.40" fill="#0000FF"/>
<rect x="65.0" y="327.75" width="170.0" height="213.85" fill="#E3003C"/>
<rect x="307.0" y="327.75" width="169.0" height="213.85" fill="#0000FF"/>
<rect x="65.0" y="358.30" width="170.0" height="183.30" fill="#E3003C"/>
<rect x="307.0" y="358.30" width="169.0" height="183.30" fill="#1E00F9"/>
<rect x="65.0" y="388.85" width="170.0" height="152.75" fill="#D20057"/>
<rect x="307.0" y="388.85" width="169.0" height="152.75" fill="#1E00F9"/>
<rect x="65.0" y="419.40" width="170.0" height="122.20" fill="#BF0074"/>
<rect x="307.0" y="419.40" width="169.0" height="122.20" fill="#3D00EE"/>
<rect x="65.0" y="449.95" width="170.0" height="91.65" fill="#BF0074"/>
<rect x="307.0" y="449.95" width="169.0" height="91.65" fill="#3D00EE"/>
<rect x="65.0" y="480.50" width="170.0" height="61.10" fill="#A60094"/>
<rect x="307.0" y="480.50" width="169.0" height="61.10" fill="#3D00EE"/>
<rect x="65.0" y="511.05" width="170.0" height="30.55" fill="#A60094"/>
<rect x="307.0" y="511.05" width="169.0" height="30.55" fill="#2F00F4"/>
<g transform="translate(65.0,298.0)" clip-path="url(#c1)">
<path d="M14.3,-13.0 C14.3,-10.8 14.2,-2.6 14.3,0.2 C14.3,3.0 14.0,2.2 14.6,3.7 C15.2,5.2 16.9,7.5 18.0,9.4 C19.1,11.3 20.3,13.3 21.2,15.2 C22.1,17.1 22.5,19.0 23.2,20.9 C23.9,22.8 24.7,24.7 25.5,26.6 C26.3,28.5 27.3,30.4 28.3,32.3 C29.2,34.2 30.3,36.2 31.2,38.1 C32.2,40.0 33.1,41.9 34.0,43.8 C34.9,45.7 35.7,47.8 36.4,49.7 C37.1,51.6 37.8,53.5 38.4,55.4 C39.0,57.3 39.7,59.3 40.2,61.2 C40.7,63.1 41.0,65.0 41.3,66.9 C41.6,68.8 42.0,70.7 42.2,72.6 C42.4,74.5 42.5,76.4 42.7,78.3 C42.9,80.2 43.1,81.4 43.3,84.0 C43.5,86.6 43.6,90.3 43.7,94.0 C43.8,97.7 43.7,102.2 43.7,105.9 C43.7,109.6 43.7,111.5 43.7,116.2 C43.7,120.9 43.7,128.5 43.8,134.0 C43.9,139.5 44.1,144.5 44.4,149.0 C44.7,153.5 44.8,156.4 45.4,161.0 C46.0,165.6 46.9,171.1 48.1,176.6 C49.3,182.1 50.8,188.2 52.5,194.0 C54.2,199.8 56.5,205.8 58.3,211.6 C60.1,217.4 61.8,223.3 63.1,229.0 C64.4,234.7 65.5,243.2 66.0,246.0 L91.6,246.0 C91.1,243.2 89.6,234.7 88.7,229.0 C87.8,223.3 87.0,217.4 86.4,211.6 C85.8,205.8 85.5,199.8 85.2,194.0 C84.8,188.2 84.6,182.4 84.3,176.6 C84.0,170.8 83.8,164.8 83.5,159.0 C83.2,153.2 82.9,145.7 82.6,141.5 C82.3,137.3 82.1,136.9 81.9,134.0 C81.7,131.1 81.5,127.0 81.2,124.0 C80.8,121.0 80.3,119.2 79.8,116.2 C79.3,113.2 78.8,109.4 78.3,105.9 C77.8,102.5 77.4,99.0 76.8,95.5 C76.2,92.0 75.4,88.6 74.7,85.2 C74.0,81.8 73.2,78.3 72.6,74.9 C72.0,71.5 71.3,67.2 70.8,64.6 C70.3,61.9 70.1,61.1 69.8,59.0 C69.5,56.9 69.2,54.3 68.8,52.0 C68.4,49.7 67.8,47.3 67.4,45.0 C67.0,42.7 66.7,40.6 66.3,38.4 C65.9,36.1 65.5,33.8 64.9,31.5 C64.3,29.2 63.6,26.9 62.9,24.6 C62.2,22.3 61.5,19.8 60.8,17.7 C60.0,15.6 58.8,13.1 58.4,12.2 C61,11.6 65,10.6 68.5,9 C72,7.4 75,5.5 78,3.3 C80.5,1.5 82.5,0.3 86,0 L120,0 L120,-13 Z" fill="#d0a2a5" fill-opacity="0.91"/>
<path d="M14.3,-13.0 C14.3,-10.8 14.2,-2.6 14.3,0.2 C14.3,3.0 14.0,2.2 14.6,3.7 C15.2,5.2 16.9,7.5 18.0,9.4 C19.1,11.3 20.3,13.3 21.2,15.2 C22.1,17.1 22.5,19.0 23.2,20.9 C23.9,22.8 24.7,24.7 25.5,26.6 C26.3,28.5 27.3,30.4 28.3,32.3 C29.2,34.2 30.3,36.2 31.2,38.1 C32.2,40.0 33.1,41.9 34.0,43.8 C34.9,45.7 35.7,47.8 36.4,49.7 C37.1,51.6 37.8,53.5 38.4,55.4 C39.0,57.3 39.7,59.3 40.2,61.2 C40.7,63.1 41.0,65.0 41.3,66.9 C41.6,68.8 42.0,70.7 42.2,72.6 C42.4,74.5 42.5,76.4 42.7,78.3 C42.9,80.2 43.1,81.4 43.3,84.0 C43.5,86.6 43.6,90.3 43.7,94.0 C43.8,97.7 43.7,102.2 43.7,105.9 C43.7,109.6 43.7,111.5 43.7,116.2 C43.7,120.9 43.7,128.5 43.8,134.0 C43.9,139.5 44.1,144.5 44.4,149.0 C44.7,153.5 44.8,156.4 45.4,161.0 C46.0,165.6 46.9,171.1 48.1,176.6 C49.3,182.1 50.8,188.2 52.5,194.0 C54.2,199.8 56.5,205.8 58.3,211.6 C60.1,217.4 61.8,223.3 63.1,229.0 C64.4,234.7 65.5,243.2 66.0,246.0 L91.6,246.0 C91.1,243.2 89.6,234.7 88.7,229.0 C87.8,223.3 87.0,217.4 86.4,211.6 C85.8,205.8 85.5,199.8 85.2,194.0 C84.8,188.2 84.6,182.4 84.3,176.6 C84.0,170.8 83.8,164.8 83.5,159.0 C83.2,153.2 82.9,145.7 82.6,141.5 C82.3,137.3 82.1,136.9 81.9,134.0 C81.7,131.1 81.5,127.0 81.2,124.0 C80.8,121.0 80.3,119.2 79.8,116.2 C79.3,113.2 78.8,109.4 78.3,105.9 C77.8,102.5 77.4,99.0 76.8,95.5 C76.2,92.0 75.4,88.6 74.7,85.2 C74.0,81.8 73.2,78.3 72.6,74.9 C72.0,71.5 71.3,67.2 70.8,64.6 C70.3,61.9 70.1,61.1 69.8,59.0 C69.5,56.9 69.2,54.3 68.8,52.0 C68.4,49.7 67.8,47.3 67.4,45.0 C67.0,42.7 66.7,40.6 66.3,38.4 C65.9,36.1 65.5,33.8 64.9,31.5 C64.3,29.2 63.6,26.9 62.9,24.6 C62.2,22.3 61.5,19.8 60.8,17.7 C60.0,15.6 58.8,13.1 58.4,12.2 C61,11.6 65,10.6 68.5,9 C72,7.4 75,5.5 78,3.3 C80.5,1.5 82.5,0.3 86,0 L120,0 L120,-13 Z" fill="url(#bgc1)"/>
<ellipse cx="29.5" cy="-3.5" rx="5" ry="4.5" fill="#e6c3c7" fill-opacity="0.55"/>
<path d="M50,-2 C55,3 57,9 58.4,12.2 C61,11.6 65,10.6 68.5,9 C72,7.4 75,5.5 78,3.3 C80.5,1.5 82.5,0.3 86,0 L120,0 L120,-4 C100,-3 80,-4 65,-6 Z" fill="#b46c76" fill-opacity="0.3"/>
<path d="M14.3,-13.0 C14.3,-10.8 14.2,-2.6 14.3,0.2 C14.3,3.0 14.0,2.2 14.6,3.7 C15.2,5.2 16.9,7.5 18.0,9.4 C19.1,11.3 20.3,13.3 21.2,15.2 C22.1,17.1 22.5,19.0 23.2,20.9 C23.9,22.8 24.7,24.7 25.5,26.6 C26.3,28.5 27.3,30.4 28.3,32.3 C29.2,34.2 30.3,36.2 31.2,38.1 C32.2,40.0 33.1,41.9 34.0,43.8 C34.9,45.7 35.7,47.8 36.4,49.7 C37.1,51.6 38.1,54.5 38.4,55.4 L39.6,54.3 C39.5,53.5 39.6,51.5 39.2,49.7 C38.8,48.0 38.0,45.7 37.3,43.8 C36.5,41.9 35.6,40.0 34.7,38.1 C33.8,36.2 32.7,34.2 31.7,32.3 C30.7,30.4 29.7,28.5 28.8,26.6 C27.9,24.7 27.2,22.8 26.4,20.9 C25.6,19.0 25.2,17.3 24.2,15.2 C23.2,13.0 21.5,10.5 20.5,8.0 C19.5,5.5 18.5,3.5 18.0,0.0 C17.5,-3.5 17.6,-10.8 17.5,-13.0 Z" fill="#e8c4c8" fill-opacity="0.2"/>
<path d="M17.5,-13.0 C17.6,-10.8 17.5,-3.5 18.0,0.0 C18.5,3.5 19.5,5.5 20.5,8.0 C21.5,10.5 23.2,13.0 24.2,15.2 C25.2,17.3 25.6,19.0 26.4,20.9 C27.2,22.8 27.9,24.7 28.8,26.6 C29.7,28.5 30.7,30.4 31.7,32.3 C32.7,34.2 33.8,36.2 34.7,38.1 C35.6,40.0 36.5,41.9 37.3,43.8 C38.0,45.7 38.8,48.0 39.2,49.7 C39.6,51.5 39.5,53.5 39.6,54.3 Q42,55.5 44,54.8 Q45,53 46.1,53.3 Q47.5,54.8 49.2,53.8 Q51,52 52.3,52.8 Q54,52.5 55.4,50.7 Q57,50.8 58.5,49.7 Q60.5,48.5 61,46.6 L61.0,46.6 C61.2,45.9 61.9,44.4 62.1,42.5 C62.3,40.6 62.4,38.1 62.1,35.2 C61.8,32.3 61.3,29.1 60.5,24.9 C59.7,20.7 58.6,16.3 57.5,10.0 C56.4,3.7 54.6,-9.2 54.0,-13.0 Z" fill="#b06670" fill-opacity="0.26" stroke="#a65660" stroke-width="1.0"/>
<path d="M26.5,-12.5 Q44.5,39.4 44.0,53.8" fill="none" stroke="#ac5c66" stroke-width="0.8" stroke-opacity="0.8"/>
<path d="M35.8,-8.0 Q48.0,38.1 48.1,51.7" fill="none" stroke="#ac5c66" stroke-width="0.8" stroke-opacity="0.8"/>
<path d="M44.0,2.0 Q53.8,33.4 53.3,51.2" fill="none" stroke="#ac5c66" stroke-width="0.8" stroke-opacity="0.8"/>
<path d="M51.6,56.0 C52.3,59.2 54.9,68.4 56.0,75.0 C57.1,81.6 57.6,88.7 58.3,95.5 C59.0,102.3 59.8,109.6 60.3,116.0 C60.8,122.4 61.0,126.8 61.6,134.0 C62.1,141.2 62.7,149.0 63.6,159.0 C64.5,169.0 66.0,183.5 67.2,194.0 C68.4,204.5 70.2,217.3 70.8,222.0" fill="none" stroke="#e6bcc1" stroke-width="5.5" stroke-opacity="0.4" stroke-linecap="round"/>
<path d="M14.7,0.2 C14.7,0.8 14.4,2.2 15.0,3.7 C15.6,5.2 17.3,7.5 18.4,9.4 C19.5,11.3 20.7,13.3 21.6,15.2 C22.5,17.1 22.9,19.0 23.6,20.9 C24.3,22.8 25.1,24.7 25.9,26.6 C26.7,28.5 27.7,30.4 28.7,32.3 C29.6,34.2 30.7,36.2 31.6,38.1 C32.6,40.0 33.5,41.9 34.4,43.8 C35.3,45.7 36.1,47.8 36.8,49.7 C37.5,51.6 38.2,53.5 38.8,55.4 C39.4,57.3 40.1,59.3 40.6,61.2 C41.1,63.1 41.4,65.0 41.7,66.9 C42.0,68.8 42.4,70.7 42.6,72.6 C42.8,74.5 42.9,76.4 43.1,78.3 C43.3,80.2 43.5,81.4 43.7,84.0 C43.9,86.6 44.0,90.3 44.1,94.0 C44.2,97.7 44.1,102.2 44.1,105.9 C44.1,109.6 44.1,111.5 44.1,116.2 C44.1,120.9 44.1,128.5 44.2,134.0 C44.3,139.5 44.5,144.5 44.8,149.0 C45.1,153.5 45.2,156.4 45.8,161.0 C46.4,165.6 47.3,171.1 48.5,176.6 C49.7,182.1 51.2,188.2 52.9,194.0 C54.6,199.8 56.9,205.8 58.7,211.6 C60.5,217.4 62.2,223.3 63.5,229.0 C64.8,234.7 65.9,243.2 66.4,246.0" fill="none" stroke="#9e5660" stroke-width="1.0" stroke-opacity="0.9"/>
<path d="M91.2,246.0 C90.7,243.2 89.2,234.7 88.3,229.0 C87.4,223.3 86.6,217.4 86.0,211.6 C85.4,205.8 85.1,199.8 84.8,194.0 C84.4,188.2 84.2,182.4 83.9,176.6 C83.6,170.8 83.4,164.8 83.1,159.0 C82.8,153.2 82.5,145.7 82.2,141.5 C81.9,137.3 81.7,136.9 81.5,134.0 C81.3,131.1 81.1,127.0 80.8,124.0 C80.4,121.0 79.9,119.2 79.4,116.2 C78.9,113.2 78.4,109.4 77.9,105.9 C77.4,102.5 77.0,99.0 76.4,95.5 C75.8,92.0 75.0,88.6 74.3,85.2 C73.6,81.8 72.8,78.3 72.2,74.9 C71.5,71.5 70.9,67.2 70.4,64.6 C69.9,61.9 69.7,61.1 69.4,59.0 C69.1,56.9 68.8,54.3 68.4,52.0 C68.0,49.7 67.4,47.3 67.0,45.0 C66.6,42.7 66.3,40.6 65.9,38.4 C65.5,36.1 65.1,33.8 64.5,31.5 C63.9,29.2 63.2,26.9 62.5,24.6 C61.8,22.3 60.8,18.9 60.4,17.7" fill="none" stroke="#9e5660" stroke-width="1.0" stroke-opacity="0.9"/>
<path d="M32.5,38.1 C32.9,39.0 34.4,41.9 35.2,43.8 C36.1,45.7 36.9,47.8 37.7,49.7 C38.4,51.6 39.0,53.5 39.7,55.4 C40.3,57.3 41.0,59.3 41.5,61.2 C41.9,63.1 42.2,65.0 42.5,66.9 C42.9,68.8 43.2,70.7 43.5,72.6 C43.7,74.5 43.8,76.4 44.0,78.3 C44.1,80.2 44.4,81.4 44.5,84.0 C44.7,86.6 44.9,90.3 45.0,94.0 C45.0,97.7 45.0,102.2 45.0,105.9 C45.0,109.6 44.9,111.5 45.0,116.2 C45.0,120.9 44.9,128.5 45.0,134.0 C45.2,139.5 45.4,144.5 45.7,149.0 C45.9,153.5 46.0,156.4 46.7,161.0 C47.3,165.6 48.2,171.1 49.3,176.6 C50.5,182.1 52.0,188.2 53.8,194.0 C55.5,199.8 57.8,205.8 59.5,211.6 C61.3,217.4 63.1,223.3 64.3,229.0 C65.6,234.7 66.8,243.2 67.2,246.0" fill="none" stroke="url(#ebc1)" stroke-width="2.5"/>
<path d="M90.3,246.0 C89.8,243.2 88.3,234.7 87.4,229.0 C86.5,223.3 85.7,217.4 85.1,211.6 C84.5,205.8 84.2,199.8 83.9,194.0 C83.5,188.2 83.3,182.4 83.0,176.6 C82.7,170.8 82.5,164.8 82.2,159.0 C81.9,153.2 81.6,145.7 81.3,141.5 C81.0,137.3 80.8,136.9 80.6,134.0 C80.4,131.1 80.2,127.0 79.9,124.0 C79.5,121.0 79.0,119.2 78.5,116.2 C78.0,113.2 77.5,109.4 77.0,105.9 C76.5,102.5 76.1,99.0 75.5,95.5 C74.9,92.0 74.1,88.6 73.4,85.2 C72.7,81.8 71.9,78.3 71.3,74.9 C70.7,71.5 70.0,67.2 69.5,64.6 C69.0,61.9 68.8,61.1 68.5,59.0 C68.2,56.9 67.9,54.3 67.5,52.0 C67.1,49.7 66.5,47.3 66.1,45.0 C65.7,42.7 65.2,39.5 65.0,38.4" fill="none" stroke="url(#ebc1)" stroke-width="2.6"/>
<path d="M58.4,12.2 C61,11.6 65,10.6 68.5,9 C72,7.4 75,5.5 78,3.3 C80.5,1.5 82.5,0.3 86,0 L120,0" fill="none" stroke="#ac5c66" stroke-width="1.2"/>
<path d="M30.0,-9.6 C31.0,-8.4 33.7,-4.7 35.8,-2.3 C37.9,0.1 40.1,2.9 42.4,5.0 C44.7,7.1 48.5,9.2 49.7,10.1" fill="none" stroke="#a03e50" stroke-width="1.1" stroke-opacity="0.85"/>
<path d="M33.0,-13.0 C33.4,-12.8 33.8,-13.0 35.1,-11.8 C36.4,-10.6 38.7,-8.1 41.0,-6.0 C43.3,-3.9 46.2,-1.2 49.0,0.6 C51.8,2.4 55.2,3.9 57.7,5.0 C60.2,6.1 63.2,6.8 64.3,7.2" fill="none" stroke="#a03e50" stroke-width="1.1" stroke-opacity="0.85"/>
<path d="M38.0,-13.0 C38.4,-12.8 38.5,-13.0 40.2,-11.8 C41.9,-10.6 45.3,-8.0 48.2,-6.0 C51.1,-4.0 54.4,-1.8 57.7,-0.1 C61.0,1.6 65.3,3.0 68.0,3.9 C70.7,4.8 72.8,4.8 73.8,5.0" fill="none" stroke="#a03e50" stroke-width="1.1" stroke-opacity="0.85"/>
<path d="M47.0,-13.0 C47.3,-12.8 47.3,-12.7 49.0,-11.8 C50.7,-10.9 54.1,-8.9 57.0,-7.4 C59.9,-5.9 63.2,-4.3 66.5,-3.0 C69.8,-1.7 75.0,0.0 76.7,0.6" fill="none" stroke="#a03e50" stroke-width="1.1" stroke-opacity="0.85"/>
<path d="M64.0,-13.0 C64.4,-12.9 64.9,-13.1 66.5,-12.5 C68.1,-11.9 72.0,-10.6 73.8,-9.6 C75.6,-8.6 76.2,-8.3 77.4,-6.7 C78.6,-5.1 80.4,-1.2 81.0,-0.1" fill="none" stroke="#a03e50" stroke-width="1.1" stroke-opacity="0.85"/>
<path d="M81.0,-13.0 C81.2,-12.8 81.4,-12.9 82.5,-11.8 C83.6,-10.8 86.5,-8.5 87.6,-6.7 C88.7,-4.9 88.8,-1.9 89.0,-0.9" fill="none" stroke="#a03e50" stroke-width="1.1" stroke-opacity="0.85"/>
<path d="M86.0,-13.0 C86.3,-12.8 86.1,-12.7 87.6,-11.8 C89.1,-10.9 92.2,-8.9 94.9,-7.4 C97.6,-5.9 99.6,-4.0 103.7,-3.0 C107.8,-2.0 117.0,-1.8 119.7,-1.6" fill="none" stroke="#a03e50" stroke-width="1.1" stroke-opacity="0.85"/>
<path d="M94.0,-13.0 C94.5,-12.6 95.8,-11.7 97.0,-10.5 C98.2,-9.3 99.7,-7.2 101.0,-6.0 C102.3,-4.8 104.3,-3.9 105.0,-3.5" fill="none" stroke="#a03e50" stroke-width="1.1" stroke-opacity="0.85"/>
<path d="M105.0,-13.0 C105.3,-12.8 105.6,-12.4 106.6,-11.8 C107.6,-11.2 108.8,-10.2 111.0,-9.6 C113.2,-9.0 118.2,-8.4 119.7,-8.2" fill="none" stroke="#a03e50" stroke-width="1.1" stroke-opacity="0.85"/>
<path d="M36.6,-0.9 C37.1,0.6 38.8,5.5 39.5,7.9 C40.2,10.3 40.8,12.7 41.0,13.7" fill="none" stroke="#a03e50" stroke-width="1.1" stroke-opacity="0.85"/>
<path d="M48.2,-0.1 C48.8,1.2 50.9,5.6 51.9,7.9 C52.9,10.2 53.6,12.7 54.0,13.7" fill="none" stroke="#a03e50" stroke-width="1.1" stroke-opacity="0.85"/>
</g>
<g transform="translate(306.5,298.0)" clip-path="url(#c1)">
<path d="M14.3,-13.0 C14.3,-10.8 14.2,-2.6 14.3,0.2 C14.3,3.0 14.0,2.2 14.6,3.7 C15.2,5.2 16.9,7.5 18.0,9.4 C19.1,11.3 20.3,13.3 21.2,15.2 C22.1,17.1 22.5,19.0 23.2,20.9 C23.9,22.8 24.7,24.7 25.5,26.6 C26.3,28.5 27.3,30.4 28.3,32.3 C29.2,34.2 30.3,36.2 31.2,38.1 C32.2,40.0 33.1,41.9 34.0,43.8 C34.9,45.7 35.7,47.8 36.4,49.7 C37.1,51.6 37.8,53.5 38.4,55.4 C39.0,57.3 39.7,59.3 40.2,61.2 C40.7,63.1 41.0,65.0 41.3,66.9 C41.6,68.8 42.0,70.7 42.2,72.6 C42.4,74.5 42.5,76.4 42.7,78.3 C42.9,80.2 43.1,81.4 43.3,84.0 C43.5,86.6 43.6,90.3 43.7,94.0 C43.8,97.7 43.7,102.2 43.7,105.9 C43.7,109.6 43.7,111.5 43.7,116.2 C43.7,120.9 43.7,128.5 43.8,134.0 C43.9,139.5 44.1,144.5 44.4,149.0 C44.7,153.5 44.8,156.4 45.4,161.0 C46.0,165.6 46.9,171.1 48.1,176.6 C49.3,182.1 50.8,188.2 52.5,194.0 C54.2,199.8 56.5,205.8 58.3,211.6 C60.1,217.4 61.8,223.3 63.1,229.0 C64.4,234.7 65.5,243.2 66.0,246.0 L91.6,246.0 C91.1,243.2 89.6,234.7 88.7,229.0 C87.8,223.3 87.0,217.4 86.4,211.6 C85.8,205.8 85.5,199.8 85.2,194.0 C84.8,188.2 84.6,182.4 84.3,176.6 C84.0,170.8 83.8,164.8 83.5,159.0 C83.2,153.2 82.9,145.7 82.6,141.5 C82.3,137.3 82.1,136.9 81.9,134.0 C81.7,131.1 81.5,127.0 81.2,124.0 C80.8,121.0 80.3,119.2 79.8,116.2 C79.3,113.2 78.8,109.4 78.3,105.9 C77.8,102.5 77.4,99.0 76.8,95.5 C76.2,92.0 75.4,88.6 74.7,85.2 C74.0,81.8 73.2,78.3 72.6,74.9 C72.0,71.5 71.3,67.2 70.8,64.6 C70.3,61.9 70.1,61.1 69.8,59.0 C69.5,56.9 69.2,54.3 68.8,52.0 C68.4,49.7 67.8,47.3 67.4,45.0 C67.0,42.7 66.7,40.6 66.3,38.4 C65.9,36.1 65.5,33.8 64.9,31.5 C64.3,29.2 63.6,26.9 62.9,24.6 C62.2,22.3 61.5,19.8 60.8,17.7 C60.0,15.6 58.8,13.1 58.4,12.2 C61,11.6 65,10.6 68.5,9 C72,7.4 75,5.5 78,3.3 C80.5,1.5 82.5,0.3 86,0 L120,0 L120,-13 Z" fill="#d0a2a5" fill-opacity="0.91"/>
<path d="M14.3,-13.0 C14.3,-10.8 14.2,-2.6 14.3,0.2 C14.3,3.0 14.0,2.2 14.6,3.7 C15.2,5.2 16.9,7.5 18.0,9.4 C19.1,11.3 20.3,13.3 21.2,15.2 C22.1,17.1 22.5,19.0 23.2,20.9 C23.9,22.8 24.7,24.7 25.5,26.6 C26.3,28.5 27.3,30.4 28.3,32.3 C29.2,34.2 30.3,36.2 31.2,38.1 C32.2,40.0 33.1,41.9 34.0,43.8 C34.9,45.7 35.7,47.8 36.4,49.7 C37.1,51.6 37.8,53.5 38.4,55.4 C39.0,57.3 39.7,59.3 40.2,61.2 C40.7,63.1 41.0,65.0 41.3,66.9 C41.6,68.8 42.0,70.7 42.2,72.6 C42.4,74.5 42.5,76.4 42.7,78.3 C42.9,80.2 43.1,81.4 43.3,84.0 C43.5,86.6 43.6,90.3 43.7,94.0 C43.8,97.7 43.7,102.2 43.7,105.9 C43.7,109.6 43.7,111.5 43.7,116.2 C43.7,120.9 43.7,128.5 43.8,134.0 C43.9,139.5 44.1,144.5 44.4,149.0 C44.7,153.5 44.8,156.4 45.4,161.0 C46.0,165.6 46.9,171.1 48.1,176.6 C49.3,182.1 50.8,188.2 52.5,194.0 C54.2,199.8 56.5,205.8 58.3,211.6 C60.1,217.4 61.8,223.3 63.1,229.0 C64.4,234.7 65.5,243.2 66.0,246.0 L91.6,246.0 C91.1,243.2 89.6,234.7 88.7,229.0 C87.8,223.3 87.0,217.4 86.4,211.6 C85.8,205.8 85.5,199.8 85.2,194.0 C84.8,188.2 84.6,182.4 84.3,176.6 C84.0,170.8 83.8,164.8 83.5,159.0 C83.2,153.2 82.9,145.7 82.6,141.5 C82.3,137.3 82.1,136.9 81.9,134.0 C81.7,131.1 81.5,127.0 81.2,124.0 C80.8,121.0 80.3,119.2 79.8,116.2 C79.3,113.2 78.8,109.4 78.3,105.9 C77.8,102.5 77.4,99.0 76.8,95.5 C76.2,92.0 75.4,88.6 74.7,85.2 C74.0,81.8 73.2,78.3 72.6,74.9 C72.0,71.5 71.3,67.2 70.8,64.6 C70.3,61.9 70.1,61.1 69.8,59.0 C69.5,56.9 69.2,54.3 68.8,52.0 C68.4,49.7 67.8,47.3 67.4,45.0 C67.0,42.7 66.7,40.6 66.3,38.4 C65.9,36.1 65.5,33.8 64.9,31.5 C64.3,29.2 63.6,26.9 62.9,24.6 C62.2,22.3 61.5,19.8 60.8,17.7 C60.0,15.6 58.8,13.1 58.4,12.2 C61,11.6 65,10.6 68.5,9 C72,7.4 75,5.5 78,3.3 C80.5,1.5 82.5,0.3 86,0 L120,0 L120,-13 Z" fill="url(#bgc1)"/>
<ellipse cx="29.5" cy="-3.5" rx="5" ry="4.5" fill="#e6c3c7" fill-opacity="0.55"/>
<path d="M50,-2 C55,3 57,9 58.4,12.2 C61,11.6 65,10.6 68.5,9 C72,7.4 75,5.5 78,3.3 C80.5,1.5 82.5,0.3 86,0 L120,0 L120,-4 C100,-3 80,-4 65,-6 Z" fill="#b46c76" fill-opacity="0.3"/>
<path d="M14.3,-13.0 C14.3,-10.8 14.2,-2.6 14.3,0.2 C14.3,3.0 14.0,2.2 14.6,3.7 C15.2,5.2 16.9,7.5 18.0,9.4 C19.1,11.3 20.3,13.3 21.2,15.2 C22.1,17.1 22.5,19.0 23.2,20.9 C23.9,22.8 24.7,24.7 25.5,26.6 C26.3,28.5 27.3,30.4 28.3,32.3 C29.2,34.2 30.3,36.2 31.2,38.1 C32.2,40.0 33.1,41.9 34.0,43.8 C34.9,45.7 35.7,47.8 36.4,49.7 C37.1,51.6 38.1,54.5 38.4,55.4 L39.6,54.3 C39.5,53.5 39.6,51.5 39.2,49.7 C38.8,48.0 38.0,45.7 37.3,43.8 C36.5,41.9 35.6,40.0 34.7,38.1 C33.8,36.2 32.7,34.2 31.7,32.3 C30.7,30.4 29.7,28.5 28.8,26.6 C27.9,24.7 27.2,22.8 26.4,20.9 C25.6,19.0 25.2,17.3 24.2,15.2 C23.2,13.0 21.5,10.5 20.5,8.0 C19.5,5.5 18.5,3.5 18.0,0.0 C17.5,-3.5 17.6,-10.8 17.5,-13.0 Z" fill="#e8c4c8" fill-opacity="0.2"/>
<path d="M17.5,-13.0 C17.6,-10.8 17.5,-3.5 18.0,0.0 C18.5,3.5 19.5,5.5 20.5,8.0 C21.5,10.5 23.2,13.0 24.2,15.2 C25.2,17.3 25.6,19.0 26.4,20.9 C27.2,22.8 27.9,24.7 28.8,26.6 C29.7,28.5 30.7,30.4 31.7,32.3 C32.7,34.2 33.8,36.2 34.7,38.1 C35.6,40.0 36.5,41.9 37.3,43.8 C38.0,45.7 38.8,48.0 39.2,49.7 C39.6,51.5 39.5,53.5 39.6,54.3 Q42,55.5 44,54.8 Q45,53 46.1,53.3 Q47.5,54.8 49.2,53.8 Q51,52 52.3,52.8 Q54,52.5 55.4,50.7 Q57,50.8 58.5,49.7 Q60.5,48.5 61,46.6 L61.0,46.6 C61.2,45.9 61.9,44.4 62.1,42.5 C62.3,40.6 62.4,38.1 62.1,35.2 C61.8,32.3 61.3,29.1 60.5,24.9 C59.7,20.7 58.6,16.3 57.5,10.0 C56.4,3.7 54.6,-9.2 54.0,-13.0 Z" fill="#b06670" fill-opacity="0.26" stroke="#a65660" stroke-width="1.0"/>
<path d="M26.5,-12.5 Q44.5,39.4 44.0,53.8" fill="none" stroke="#ac5c66" stroke-width="0.8" stroke-opacity="0.8"/>
<path d="M35.8,-8.0 Q48.0,38.1 48.1,51.7" fill="none" stroke="#ac5c66" stroke-width="0.8" stroke-opacity="0.8"/>
<path d="M44.0,2.0 Q53.8,33.4 53.3,51.2" fill="none" stroke="#ac5c66" stroke-width="0.8" stroke-opacity="0.8"/>
<path d="M51.6,56.0 C52.3,59.2 54.9,68.4 56.0,75.0 C57.1,81.6 57.6,88.7 58.3,95.5 C59.0,102.3 59.8,109.6 60.3,116.0 C60.8,122.4 61.0,126.8 61.6,134.0 C62.1,141.2 62.7,149.0 63.6,159.0 C64.5,169.0 66.0,183.5 67.2,194.0 C68.4,204.5 70.2,217.3 70.8,222.0" fill="none" stroke="#e6bcc1" stroke-width="5.5" stroke-opacity="0.4" stroke-linecap="round"/>
<path d="M14.7,0.2 C14.7,0.8 14.4,2.2 15.0,3.7 C15.6,5.2 17.3,7.5 18.4,9.4 C19.5,11.3 20.7,13.3 21.6,15.2 C22.5,17.1 22.9,19.0 23.6,20.9 C24.3,22.8 25.1,24.7 25.9,26.6 C26.7,28.5 27.7,30.4 28.7,32.3 C29.6,34.2 30.7,36.2 31.6,38.1 C32.6,40.0 33.5,41.9 34.4,43.8 C35.3,45.7 36.1,47.8 36.8,49.7 C37.5,51.6 38.2,53.5 38.8,55.4 C39.4,57.3 40.1,59.3 40.6,61.2 C41.1,63.1 41.4,65.0 41.7,66.9 C42.0,68.8 42.4,70.7 42.6,72.6 C42.8,74.5 42.9,76.4 43.1,78.3 C43.3,80.2 43.5,81.4 43.7,84.0 C43.9,86.6 44.0,90.3 44.1,94.0 C44.2,97.7 44.1,102.2 44.1,105.9 C44.1,109.6 44.1,111.5 44.1,116.2 C44.1,120.9 44.1,128.5 44.2,134.0 C44.3,139.5 44.5,144.5 44.8,149.0 C45.1,153.5 45.2,156.4 45.8,161.0 C46.4,165.6 47.3,171.1 48.5,176.6 C49.7,182.1 51.2,188.2 52.9,194.0 C54.6,199.8 56.9,205.8 58.7,211.6 C60.5,217.4 62.2,223.3 63.5,229.0 C64.8,234.7 65.9,243.2 66.4,246.0" fill="none" stroke="#9e5660" stroke-width="1.0" stroke-opacity="0.9"/>
<path d="M91.2,246.0 C90.7,243.2 89.2,234.7 88.3,229.0 C87.4,223.3 86.6,217.4 86.0,211.6 C85.4,205.8 85.1,199.8 84.8,194.0 C84.4,188.2 84.2,182.4 83.9,176.6 C83.6,170.8 83.4,164.8 83.1,159.0 C82.8,153.2 82.5,145.7 82.2,141.5 C81.9,137.3 81.7,136.9 81.5,134.0 C81.3,131.1 81.1,127.0 80.8,124.0 C80.4,121.0 79.9,119.2 79.4,116.2 C78.9,113.2 78.4,109.4 77.9,105.9 C77.4,102.5 77.0,99.0 76.4,95.5 C75.8,92.0 75.0,88.6 74.3,85.2 C73.6,81.8 72.8,78.3 72.2,74.9 C71.5,71.5 70.9,67.2 70.4,64.6 C69.9,61.9 69.7,61.1 69.4,59.0 C69.1,56.9 68.8,54.3 68.4,52.0 C68.0,49.7 67.4,47.3 67.0,45.0 C66.6,42.7 66.3,40.6 65.9,38.4 C65.5,36.1 65.1,33.8 64.5,31.5 C63.9,29.2 63.2,26.9 62.5,24.6 C61.8,22.3 60.8,18.9 60.4,17.7" fill="none" stroke="#9e5660" stroke-width="1.0" stroke-opacity="0.9"/>
<path d="M32.5,38.1 C32.9,39.0 34.4,41.9 35.2,43.8 C36.1,45.7 36.9,47.8 37.7,49.7 C38.4,51.6 39.0,53.5 39.7,55.4 C40.3,57.3 41.0,59.3 41.5,61.2 C41.9,63.1 42.2,65.0 42.5,66.9 C42.9,68.8 43.2,70.7 43.5,72.6 C43.7,74.5 43.8,76.4 44.0,78.3 C44.1,80.2 44.4,81.4 44.5,84.0 C44.7,86.6 44.9,90.3 45.0,94.0 C45.0,97.7 45.0,102.2 45.0,105.9 C45.0,109.6 44.9,111.5 45.0,116.2 C45.0,120.9 44.9,128.5 45.0,134.0 C45.2,139.5 45.4,144.5 45.7,149.0 C45.9,153.5 46.0,156.4 46.7,161.0 C47.3,165.6 48.2,171.1 49.3,176.6 C50.5,182.1 52.0,188.2 53.8,194.0 C55.5,199.8 57.8,205.8 59.5,211.6 C61.3,217.4 63.1,223.3 64.3,229.0 C65.6,234.7 66.8,243.2 67.2,246.0" fill="none" stroke="url(#ebc1)" stroke-width="2.5"/>
<path d="M90.3,246.0 C89.8,243.2 88.3,234.7 87.4,229.0 C86.5,223.3 85.7,217.4 85.1,211.6 C84.5,205.8 84.2,199.8 83.9,194.0 C83.5,188.2 83.3,182.4 83.0,176.6 C82.7,170.8 82.5,164.8 82.2,159.0 C81.9,153.2 81.6,145.7 81.3,141.5 C81.0,137.3 80.8,136.9 80.6,134.0 C80.4,131.1 80.2,127.0 79.9,124.0 C79.5,121.0 79.0,119.2 78.5,116.2 C78.0,113.2 77.5,109.4 77.0,105.9 C76.5,102.5 76.1,99.0 75.5,95.5 C74.9,92.0 74.1,88.6 73.4,85.2 C72.7,81.8 71.9,78.3 71.3,74.9 C70.7,71.5 70.0,67.2 69.5,64.6 C69.0,61.9 68.8,61.1 68.5,59.0 C68.2,56.9 67.9,54.3 67.5,52.0 C67.1,49.7 66.5,47.3 66.1,45.0 C65.7,42.7 65.2,39.5 65.0,38.4" fill="none" stroke="url(#ebc1)" stroke-width="2.6"/>
<path d="M58.4,12.2 C61,11.6 65,10.6 68.5,9 C72,7.4 75,5.5 78,3.3 C80.5,1.5 82.5,0.3 86,0 L120,0" fill="none" stroke="#ac5c66" stroke-width="1.2"/>
<path d="M30.0,-9.6 C31.0,-8.4 33.7,-4.7 35.8,-2.3 C37.9,0.1 40.1,2.9 42.4,5.0 C44.7,7.1 48.5,9.2 49.7,10.1" fill="none" stroke="#a03e50" stroke-width="1.1" stroke-opacity="0.85"/>
<path d="M33.0,-13.0 C33.4,-12.8 33.8,-13.0 35.1,-11.8 C36.4,-10.6 38.7,-8.1 41.0,-6.0 C43.3,-3.9 46.2,-1.2 49.0,0.6 C51.8,2.4 55.2,3.9 57.7,5.0 C60.2,6.1 63.2,6.8 64.3,7.2" fill="none" stroke="#a03e50" stroke-width="1.1" stroke-opacity="0.85"/>
<path d="M38.0,-13.0 C38.4,-12.8 38.5,-13.0 40.2,-11.8 C41.9,-10.6 45.3,-8.0 48.2,-6.0 C51.1,-4.0 54.4,-1.8 57.7,-0.1 C61.0,1.6 65.3,3.0 68.0,3.9 C70.7,4.8 72.8,4.8 73.8,5.0" fill="none" stroke="#a03e50" stroke-width="1.1" stroke-opacity="0.85"/>
<path d="M47.0,-13.0 C47.3,-12.8 47.3,-12.7 49.0,-11.8 C50.7,-10.9 54.1,-8.9 57.0,-7.4 C59.9,-5.9 63.2,-4.3 66.5,-3.0 C69.8,-1.7 75.0,0.0 76.7,0.6" fill="none" stroke="#a03e50" stroke-width="1.1" stroke-opacity="0.85"/>
<path d="M64.0,-13.0 C64.4,-12.9 64.9,-13.1 66.5,-12.5 C68.1,-11.9 72.0,-10.6 73.8,-9.6 C75.6,-8.6 76.2,-8.3 77.4,-6.7 C78.6,-5.1 80.4,-1.2 81.0,-0.1" fill="none" stroke="#a03e50" stroke-width="1.1" stroke-opacity="0.85"/>
<path d="M81.0,-13.0 C81.2,-12.8 81.4,-12.9 82.5,-11.8 C83.6,-10.8 86.5,-8.5 87.6,-6.7 C88.7,-4.9 88.8,-1.9 89.0,-0.9" fill="none" stroke="#a03e50" stroke-width="1.1" stroke-opacity="0.85"/>
<path d="M86.0,-13.0 C86.3,-12.8 86.1,-12.7 87.6,-11.8 C89.1,-10.9 92.2,-8.9 94.9,-7.4 C97.6,-5.9 99.6,-4.0 103.7,-3.0 C107.8,-2.0 117.0,-1.8 119.7,-1.6" fill="none" stroke="#a03e50" stroke-width="1.1" stroke-opacity="0.85"/>
<path d="M94.0,-13.0 C94.5,-12.6 95.8,-11.7 97.0,-10.5 C98.2,-9.3 99.7,-7.2 101.0,-6.0 C102.3,-4.8 104.3,-3.9 105.0,-3.5" fill="none" stroke="#a03e50" stroke-width="1.1" stroke-opacity="0.85"/>
<path d="M105.0,-13.0 C105.3,-12.8 105.6,-12.4 106.6,-11.8 C107.6,-11.2 108.8,-10.2 111.0,-9.6 C113.2,-9.0 118.2,-8.4 119.7,-8.2" fill="none" stroke="#a03e50" stroke-width="1.1" stroke-opacity="0.85"/>
<path d="M36.6,-0.9 C37.1,0.6 38.8,5.5 39.5,7.9 C40.2,10.3 40.8,12.7 41.0,13.7" fill="none" stroke="#a03e50" stroke-width="1.1" stroke-opacity="0.85"/>
<path d="M48.2,-0.1 C48.8,1.2 50.9,5.6 51.9,7.9 C52.9,10.2 53.6,12.7 54.0,13.7" fill="none" stroke="#a03e50" stroke-width="1.1" stroke-opacity="0.85"/>
</g>
<text x="0" y="0" transform="translate(105.0,316.8) scale(0.96,1.18)" font-size="8" text-anchor="middle" fill="#000" stroke="#000" stroke-width="0.1">Medulla</text>
<text x="0" y="0" transform="translate(113.3,343.0) scale(0.96,1.18)" font-size="8" text-anchor="middle" fill="#000" stroke="#000" stroke-width="0.1">C1</text>
<text x="0" y="0" transform="translate(121.4,375.5) scale(0.96,1.18)" font-size="8" text-anchor="middle" fill="#000" stroke="#000" stroke-width="0.1">C2</text>
<text x="0" y="0" transform="translate(123.8,407.4) scale(0.96,1.18)" font-size="8" text-anchor="middle" fill="#000" stroke="#000" stroke-width="0.1">C3</text>
<text x="0" y="0" transform="translate(126.4,436.2) scale(0.96,1.18)" font-size="8" text-anchor="middle" fill="#000" stroke="#000" stroke-width="0.1">C4</text>
<text x="0" y="0" transform="translate(129.2,464.8) scale(0.96,1.18)" font-size="8" text-anchor="middle" fill="#000" stroke="#000" stroke-width="0.1">C5</text>
<text x="0" y="0" transform="translate(132.6,499.8) scale(0.96,1.18)" font-size="8" text-anchor="middle" fill="#000" stroke="#000" stroke-width="0.1">C6</text>
<text x="0" y="0" transform="translate(138.4,528.8) scale(0.96,1.18)" font-size="8" text-anchor="middle" fill="#000" stroke="#000" stroke-width="0.1">C7</text>
<text x="0" y="0" transform="translate(346.5,316.8) scale(0.96,1.18)" font-size="8" text-anchor="middle" fill="#000" stroke="#000" stroke-width="0.1">Medulla</text>
<text x="0" y="0" transform="translate(354.8,343.0) scale(0.96,1.18)" font-size="8" text-anchor="middle" fill="#000" stroke="#000" stroke-width="0.1">C1</text>
<text x="0" y="0" transform="translate(362.9,375.5) scale(0.96,1.18)" font-size="8" text-anchor="middle" fill="#000" stroke="#000" stroke-width="0.1">C2</text>
<text x="0" y="0" transform="translate(365.3,407.4) scale(0.96,1.18)" font-size="8" text-anchor="middle" fill="#000" stroke="#000" stroke-width="0.1">C3</text>
<text x="0" y="0" transform="translate(367.9,436.2) scale(0.96,1.18)" font-size="8" text-anchor="middle" fill="#000" stroke="#000" stroke-width="0.1">C4</text>
<text x="0" y="0" transform="translate(370.7,464.8) scale(0.96,1.18)" font-size="8" text-anchor="middle" fill="#000" stroke="#000" stroke-width="0.1">C5</text>
<text x="0" y="0" transform="translate(374.1,499.8) scale(0.96,1.18)" font-size="8" text-anchor="middle" fill="#000" stroke="#000" stroke-width="0.1">C6</text>
<text x="0" y="0" transform="translate(379.9,528.8) scale(0.96,1.18)" font-size="8" text-anchor="middle" fill="#000" stroke="#000" stroke-width="0.1">C7</text>
<text x="229.5" y="317.8" font-size="14" text-anchor="end" fill="#fff">25.0%</text>
<text x="471.3" y="317.8" font-size="14" text-anchor="end" fill="#fff">0%</text>
<rect x="269.40" y="313.60" width="2.4" height="1.1" fill="#222"/>
<text x="229.5" y="348.3" font-size="14" text-anchor="end" fill="#fff">75.0%</text>
<text x="471.3" y="348.3" font-size="14" text-anchor="end" fill="#fff">0%</text>
<rect x="269.40" y="343.60" width="2.4" height="1.1" fill="#222"/>
<text x="229.5" y="378.9" font-size="14" text-anchor="end" fill="#fff">75.0%</text>
<text x="471.3" y="378.9" font-size="14" text-anchor="end" fill="#fff">1.9%</text>
<text class="ser" x="271.65" y="376.6" font-size="8.4" text-anchor="middle" textLength="29.6" lengthAdjust="spacingAndGlyphs" fill="#111" stroke="#111" stroke-width="0.2">p = 0.003</text>
<text x="229.5" y="409.4" font-size="14" text-anchor="end" fill="#fff">62.5%</text>
<text x="471.3" y="409.4" font-size="14" text-anchor="end" fill="#fff">1.9%</text>
<text class="ser" x="271.65" y="407.1" font-size="8.4" text-anchor="middle" textLength="29.6" lengthAdjust="spacingAndGlyphs" fill="#111" stroke="#111" stroke-width="0.2">p = 0.004</text>
<text x="229.5" y="440.0" font-size="14" text-anchor="end" fill="#fff">50.0%</text>
<text x="471.3" y="440.0" font-size="14" text-anchor="end" fill="#fff">5.8%</text>
<text class="ser" x="271.65" y="436.6" font-size="8.4" text-anchor="middle" textLength="29.6" lengthAdjust="spacingAndGlyphs" fill="#222" stroke="#222" stroke-width="0.3">p = 0.003</text>
<text x="229.5" y="470.5" font-size="14" text-anchor="end" fill="#fff">50.0%</text>
<text x="471.3" y="470.5" font-size="14" text-anchor="end" fill="#fff">5.8%</text>
<text class="ser" x="271.65" y="468.7" font-size="8.4" text-anchor="middle" textLength="29.6" lengthAdjust="spacingAndGlyphs" fill="#222" stroke="#222" stroke-width="0.3">p = 0.003</text>
<text x="229.5" y="501.1" font-size="14" text-anchor="end" fill="#fff">37.5%</text>
<text x="471.3" y="501.1" font-size="14" text-anchor="end" fill="#fff">5.8%</text>
<text class="ser" x="270.75" y="499.7" font-size="8.4" text-anchor="middle" textLength="30" lengthAdjust="spacingAndGlyphs" fill="#7e7e7e">p = 0.534</text>
<text x="229.5" y="531.6" font-size="14" text-anchor="end" fill="#fff">37.5%</text>
<text x="471.3" y="531.6" font-size="14" text-anchor="end" fill="#fff">3.8%</text>
<text class="ser" x="270.75" y="531.7" font-size="8.4" text-anchor="middle" textLength="30" lengthAdjust="spacingAndGlyphs" fill="#7e7e7e">p = 0.477</text>
<text x="0" y="0" font-size="15" text-anchor="middle" textLength="111.6" lengthAdjust="spacingAndGlyphs" fill="#000" stroke="#000" stroke-width="0.15" transform="translate(37.6,412.8) rotate(-90)">Increased volume</text>
<rect x="5.5" y="567.5" width="531" height="268.3" rx="0.7" fill="none" stroke="#6f6f6f" stroke-width="1.15"/>
<rect x="65.0" y="579.00" width="170.0" height="245.00" fill="#BF0074"/>
<rect x="307.0" y="579.00" width="169.0" height="245.00" fill="#6D00CE"/>
<rect x="65.0" y="609.62" width="170.0" height="214.38" fill="#EF0025"/>
<rect x="307.0" y="609.62" width="169.0" height="214.38" fill="#7F00BF"/>
<rect x="65.0" y="640.25" width="170.0" height="183.75" fill="#EF0025"/>
<rect x="307.0" y="640.25" width="169.0" height="183.75" fill="#8400B9"/>
<rect x="65.0" y="670.88" width="170.0" height="153.12" fill="#EF0025"/>
<rect x="307.0" y="670.88" width="169.0" height="153.12" fill="#7F00BF"/>
<rect x="65.0" y="701.50" width="170.0" height="122.50" fill="#DE0043"/>
<rect x="307.0" y="701.50" width="169.0" height="122.50" fill="#6900D2"/>
<rect x="65.0" y="732.12" width="170.0" height="91.88" fill="#DE0043"/>
<rect x="307.0" y="732.12" width="169.0" height="91.88" fill="#4D00E5"/>
<rect x="65.0" y="762.75" width="170.0" height="61.25" fill="#C90063"/>
<rect x="307.0" y="762.75" width="169.0" height="61.25" fill="#5700DE"/>
<rect x="65.0" y="793.38" width="170.0" height="30.62" fill="#B20087"/>
<rect x="307.0" y="793.38" width="169.0" height="30.62" fill="#4D00E5"/>
<g transform="translate(65.0,580.0)" clip-path="url(#c2)">
<path d="M14.3,-13.0 C14.3,-10.8 14.2,-2.6 14.3,0.2 C14.3,3.0 14.0,2.2 14.6,3.7 C15.2,5.2 16.9,7.5 18.0,9.4 C19.1,11.3 20.3,13.3 21.2,15.2 C22.1,17.1 22.5,19.0 23.2,20.9 C23.9,22.8 24.7,24.7 25.5,26.6 C26.3,28.5 27.3,30.4 28.3,32.3 C29.2,34.2 30.3,36.2 31.2,38.1 C32.2,40.0 33.1,41.9 34.0,43.8 C34.9,45.7 35.7,47.8 36.4,49.7 C37.1,51.6 37.8,53.5 38.4,55.4 C39.0,57.3 39.7,59.3 40.2,61.2 C40.7,63.1 41.0,65.0 41.3,66.9 C41.6,68.8 42.0,70.7 42.2,72.6 C42.4,74.5 42.5,76.4 42.7,78.3 C42.9,80.2 43.1,81.4 43.3,84.0 C43.5,86.6 43.6,90.3 43.7,94.0 C43.8,97.7 43.7,102.2 43.7,105.9 C43.7,109.6 43.7,111.5 43.7,116.2 C43.7,120.9 43.7,128.5 43.8,134.0 C43.9,139.5 44.1,144.5 44.4,149.0 C44.7,153.5 44.8,156.4 45.4,161.0 C46.0,165.6 46.9,171.1 48.1,176.6 C49.3,182.1 50.8,188.2 52.5,194.0 C54.2,199.8 56.5,205.8 58.3,211.6 C60.1,217.4 61.8,223.3 63.1,229.0 C64.4,234.7 65.5,243.2 66.0,246.0 L91.6,246.0 C91.1,243.2 89.6,234.7 88.7,229.0 C87.8,223.3 87.0,217.4 86.4,211.6 C85.8,205.8 85.5,199.8 85.2,194.0 C84.8,188.2 84.6,182.4 84.3,176.6 C84.0,170.8 83.8,164.8 83.5,159.0 C83.2,153.2 82.9,145.7 82.6,141.5 C82.3,137.3 82.1,136.9 81.9,134.0 C81.7,131.1 81.5,127.0 81.2,124.0 C80.8,121.0 80.3,119.2 79.8,116.2 C79.3,113.2 78.8,109.4 78.3,105.9 C77.8,102.5 77.4,99.0 76.8,95.5 C76.2,92.0 75.4,88.6 74.7,85.2 C74.0,81.8 73.2,78.3 72.6,74.9 C72.0,71.5 71.3,67.2 70.8,64.6 C70.3,61.9 70.1,61.1 69.8,59.0 C69.5,56.9 69.2,54.3 68.8,52.0 C68.4,49.7 67.8,47.3 67.4,45.0 C67.0,42.7 66.7,40.6 66.3,38.4 C65.9,36.1 65.5,33.8 64.9,31.5 C64.3,29.2 63.6,26.9 62.9,24.6 C62.2,22.3 61.5,19.8 60.8,17.7 C60.0,15.6 58.8,13.1 58.4,12.2 C61,11.6 65,10.6 68.5,9 C72,7.4 75,5.5 78,3.3 C80.5,1.5 82.5,0.3 86,0 L120,0 L120,-13 Z" fill="#d0a2a5" fill-opacity="0.91"/>
<path d="M14.3,-13.0 C14.3,-10.8 14.2,-2.6 14.3,0.2 C14.3,3.0 14.0,2.2 14.6,3.7 C15.2,5.2 16.9,7.5 18.0,9.4 C19.1,11.3 20.3,13.3 21.2,15.2 C22.1,17.1 22.5,19.0 23.2,20.9 C23.9,22.8 24.7,24.7 25.5,26.6 C26.3,28.5 27.3,30.4 28.3,32.3 C29.2,34.2 30.3,36.2 31.2,38.1 C32.2,40.0 33.1,41.9 34.0,43.8 C34.9,45.7 35.7,47.8 36.4,49.7 C37.1,51.6 37.8,53.5 38.4,55.4 C39.0,57.3 39.7,59.3 40.2,61.2 C40.7,63.1 41.0,65.0 41.3,66.9 C41.6,68.8 42.0,70.7 42.2,72.6 C42.4,74.5 42.5,76.4 42.7,78.3 C42.9,80.2 43.1,81.4 43.3,84.0 C43.5,86.6 43.6,90.3 43.7,94.0 C43.8,97.7 43.7,102.2 43.7,105.9 C43.7,109.6 43.7,111.5 43.7,116.2 C43.7,120.9 43.7,128.5 43.8,134.0 C43.9,139.5 44.1,144.5 44.4,149.0 C44.7,153.5 44.8,156.4 45.4,161.0 C46.0,165.6 46.9,171.1 48.1,176.6 C49.3,182.1 50.8,188.2 52.5,194.0 C54.2,199.8 56.5,205.8 58.3,211.6 C60.1,217.4 61.8,223.3 63.1,229.0 C64.4,234.7 65.5,243.2 66.0,246.0 L91.6,246.0 C91.1,243.2 89.6,234.7 88.7,229.0 C87.8,223.3 87.0,217.4 86.4,211.6 C85.8,205.8 85.5,199.8 85.2,194.0 C84.8,188.2 84.6,182.4 84.3,176.6 C84.0,170.8 83.8,164.8 83.5,159.0 C83.2,153.2 82.9,145.7 82.6,141.5 C82.3,137.3 82.1,136.9 81.9,134.0 C81.7,131.1 81.5,127.0 81.2,124.0 C80.8,121.0 80.3,119.2 79.8,116.2 C79.3,113.2 78.8,109.4 78.3,105.9 C77.8,102.5 77.4,99.0 76.8,95.5 C76.2,92.0 75.4,88.6 74.7,85.2 C74.0,81.8 73.2,78.3 72.6,74.9 C72.0,71.5 71.3,67.2 70.8,64.6 C70.3,61.9 70.1,61.1 69.8,59.0 C69.5,56.9 69.2,54.3 68.8,52.0 C68.4,49.7 67.8,47.3 67.4,45.0 C67.0,42.7 66.7,40.6 66.3,38.4 C65.9,36.1 65.5,33.8 64.9,31.5 C64.3,29.2 63.6,26.9 62.9,24.6 C62.2,22.3 61.5,19.8 60.8,17.7 C60.0,15.6 58.8,13.1 58.4,12.2 C61,11.6 65,10.6 68.5,9 C72,7.4 75,5.5 78,3.3 C80.5,1.5 82.5,0.3 86,0 L120,0 L120,-13 Z" fill="url(#bgc2)"/>
<ellipse cx="29.5" cy="-3.5" rx="5" ry="4.5" fill="#e6c3c7" fill-opacity="0.55"/>
<path d="M50,-2 C55,3 57,9 58.4,12.2 C61,11.6 65,10.6 68.5,9 C72,7.4 75,5.5 78,3.3 C80.5,1.5 82.5,0.3 86,0 L120,0 L120,-4 C100,-3 80,-4 65,-6 Z" fill="#b46c76" fill-opacity="0.3"/>
<path d="M14.3,-13.0 C14.3,-10.8 14.2,-2.6 14.3,0.2 C14.3,3.0 14.0,2.2 14.6,3.7 C15.2,5.2 16.9,7.5 18.0,9.4 C19.1,11.3 20.3,13.3 21.2,15.2 C22.1,17.1 22.5,19.0 23.2,20.9 C23.9,22.8 24.7,24.7 25.5,26.6 C26.3,28.5 27.3,30.4 28.3,32.3 C29.2,34.2 30.3,36.2 31.2,38.1 C32.2,40.0 33.1,41.9 34.0,43.8 C34.9,45.7 35.7,47.8 36.4,49.7 C37.1,51.6 38.1,54.5 38.4,55.4 L39.6,54.3 C39.5,53.5 39.6,51.5 39.2,49.7 C38.8,48.0 38.0,45.7 37.3,43.8 C36.5,41.9 35.6,40.0 34.7,38.1 C33.8,36.2 32.7,34.2 31.7,32.3 C30.7,30.4 29.7,28.5 28.8,26.6 C27.9,24.7 27.2,22.8 26.4,20.9 C25.6,19.0 25.2,17.3 24.2,15.2 C23.2,13.0 21.5,10.5 20.5,8.0 C19.5,5.5 18.5,3.5 18.0,0.0 C17.5,-3.5 17.6,-10.8 17.5,-13.0 Z" fill="#e8c4c8" fill-opacity="0.2"/>
<path d="M17.5,-13.0 C17.6,-10.8 17.5,-3.5 18.0,0.0 C18.5,3.5 19.5,5.5 20.5,8.0 C21.5,10.5 23.2,13.0 24.2,15.2 C25.2,17.3 25.6,19.0 26.4,20.9 C27.2,22.8 27.9,24.7 28.8,26.6 C29.7,28.5 30.7,30.4 31.7,32.3 C32.7,34.2 33.8,36.2 34.7,38.1 C35.6,40.0 36.5,41.9 37.3,43.8 C38.0,45.7 38.8,48.0 39.2,49.7 C39.6,51.5 39.5,53.5 39.6,54.3 Q42,55.5 44,54.8 Q45,53 46.1,53.3 Q47.5,54.8 49.2,53.8 Q51,52 52.3,52.8 Q54,52.5 55.4,50.7 Q57,50.8 58.5,49.7 Q60.5,48.5 61,46.6 L61.0,46.6 C61.2,45.9 61.9,44.4 62.1,42.5 C62.3,40.6 62.4,38.1 62.1,35.2 C61.8,32.3 61.3,29.1 60.5,24.9 C59.7,20.7 58.6,16.3 57.5,10.0 C56.4,3.7 54.6,-9.2 54.0,-13.0 Z" fill="#b06670" fill-opacity="0.26" stroke="#a65660" stroke-width="1.0"/>
<path d="M26.5,-12.5 Q44.5,39.4 44.0,53.8" fill="none" stroke="#ac5c66" stroke-width="0.8" stroke-opacity="0.8"/>
<path d="M35.8,-8.0 Q48.0,38.1 48.1,51.7" fill="none" stroke="#ac5c66" stroke-width="0.8" stroke-opacity="0.8"/>
<path d="M44.0,2.0 Q53.8,33.4 53.3,51.2" fill="none" stroke="#ac5c66" stroke-width="0.8" stroke-opacity="0.8"/>
<path d="M51.6,56.0 C52.3,59.2 54.9,68.4 56.0,75.0 C57.1,81.6 57.6,88.7 58.3,95.5 C59.0,102.3 59.8,109.6 60.3,116.0 C60.8,122.4 61.0,126.8 61.6,134.0 C62.1,141.2 62.7,149.0 63.6,159.0 C64.5,169.0 66.0,183.5 67.2,194.0 C68.4,204.5 70.2,217.3 70.8,222.0" fill="none" stroke="#e6bcc1" stroke-width="5.5" stroke-opacity="0.4" stroke-linecap="round"/>
<path d="M14.7,0.2 C14.7,0.8 14.4,2.2 15.0,3.7 C15.6,5.2 17.3,7.5 18.4,9.4 C19.5,11.3 20.7,13.3 21.6,15.2 C22.5,17.1 22.9,19.0 23.6,20.9 C24.3,22.8 25.1,24.7 25.9,26.6 C26.7,28.5 27.7,30.4 28.7,32.3 C29.6,34.2 30.7,36.2 31.6,38.1 C32.6,40.0 33.5,41.9 34.4,43.8 C35.3,45.7 36.1,47.8 36.8,49.7 C37.5,51.6 38.2,53.5 38.8,55.4 C39.4,57.3 40.1,59.3 40.6,61.2 C41.1,63.1 41.4,65.0 41.7,66.9 C42.0,68.8 42.4,70.7 42.6,72.6 C42.8,74.5 42.9,76.4 43.1,78.3 C43.3,80.2 43.5,81.4 43.7,84.0 C43.9,86.6 44.0,90.3 44.1,94.0 C44.2,97.7 44.1,102.2 44.1,105.9 C44.1,109.6 44.1,111.5 44.1,116.2 C44.1,120.9 44.1,128.5 44.2,134.0 C44.3,139.5 44.5,144.5 44.8,149.0 C45.1,153.5 45.2,156.4 45.8,161.0 C46.4,165.6 47.3,171.1 48.5,176.6 C49.7,182.1 51.2,188.2 52.9,194.0 C54.6,199.8 56.9,205.8 58.7,211.6 C60.5,217.4 62.2,223.3 63.5,229.0 C64.8,234.7 65.9,243.2 66.4,246.0" fill="none" stroke="#9e5660" stroke-width="1.0" stroke-opacity="0.9"/>
<path d="M91.2,246.0 C90.7,243.2 89.2,234.7 88.3,229.0 C87.4,223.3 86.6,217.4 86.0,211.6 C85.4,205.8 85.1,199.8 84.8,194.0 C84.4,188.2 84.2,182.4 83.9,176.6 C83.6,170.8 83.4,164.8 83.1,159.0 C82.8,153.2 82.5,145.7 82.2,141.5 C81.9,137.3 81.7,136.9 81.5,134.0 C81.3,131.1 81.1,127.0 80.8,124.0 C80.4,121.0 79.9,119.2 79.4,116.2 C78.9,113.2 78.4,109.4 77.9,105.9 C77.4,102.5 77.0,99.0 76.4,95.5 C75.8,92.0 75.0,88.6 74.3,85.2 C73.6,81.8 72.8,78.3 72.2,74.9 C71.5,71.5 70.9,67.2 70.4,64.6 C69.9,61.9 69.7,61.1 69.4,59.0 C69.1,56.9 68.8,54.3 68.4,52.0 C68.0,49.7 67.4,47.3 67.0,45.0 C66.6,42.7 66.3,40.6 65.9,38.4 C65.5,36.1 65.1,33.8 64.5,31.5 C63.9,29.2 63.2,26.9 62.5,24.6 C61.8,22.3 60.8,18.9 60.4,17.7" fill="none" stroke="#9e5660" stroke-width="1.0" stroke-opacity="0.9"/>
<path d="M32.5,38.1 C32.9,39.0 34.4,41.9 35.2,43.8 C36.1,45.7 36.9,47.8 37.7,49.7 C38.4,51.6 39.0,53.5 39.7,55.4 C40.3,57.3 41.0,59.3 41.5,61.2 C41.9,63.1 42.2,65.0 42.5,66.9 C42.9,68.8 43.2,70.7 43.5,72.6 C43.7,74.5 43.8,76.4 44.0,78.3 C44.1,80.2 44.4,81.4 44.5,84.0 C44.7,86.6 44.9,90.3 45.0,94.0 C45.0,97.7 45.0,102.2 45.0,105.9 C45.0,109.6 44.9,111.5 45.0,116.2 C45.0,120.9 44.9,128.5 45.0,134.0 C45.2,139.5 45.4,144.5 45.7,149.0 C45.9,153.5 46.0,156.4 46.7,161.0 C47.3,165.6 48.2,171.1 49.3,176.6 C50.5,182.1 52.0,188.2 53.8,194.0 C55.5,199.8 57.8,205.8 59.5,211.6 C61.3,217.4 63.1,223.3 64.3,229.0 C65.6,234.7 66.8,243.2 67.2,246.0" fill="none" stroke="url(#ebc2)" stroke-width="2.5"/>
<path d="M90.3,246.0 C89.8,243.2 88.3,234.7 87.4,229.0 C86.5,223.3 85.7,217.4 85.1,211.6 C84.5,205.8 84.2,199.8 83.9,194.0 C83.5,188.2 83.3,182.4 83.0,176.6 C82.7,170.8 82.5,164.8 82.2,159.0 C81.9,153.2 81.6,145.7 81.3,141.5 C81.0,137.3 80.8,136.9 80.6,134.0 C80.4,131.1 80.2,127.0 79.9,124.0 C79.5,121.0 79.0,119.2 78.5,116.2 C78.0,113.2 77.5,109.4 77.0,105.9 C76.5,102.5 76.1,99.0 75.5,95.5 C74.9,92.0 74.1,88.6 73.4,85.2 C72.7,81.8 71.9,78.3 71.3,74.9 C70.7,71.5 70.0,67.2 69.5,64.6 C69.0,61.9 68.8,61.1 68.5,59.0 C68.2,56.9 67.9,54.3 67.5,52.0 C67.1,49.7 66.5,47.3 66.1,45.0 C65.7,42.7 65.2,39.5 65.0,38.4" fill="none" stroke="url(#ebc2)" stroke-width="2.6"/>
<path d="M58.4,12.2 C61,11.6 65,10.6 68.5,9 C72,7.4 75,5.5 78,3.3 C80.5,1.5 82.5,0.3 86,0 L120,0" fill="none" stroke="#ac5c66" stroke-width="1.2"/>
<path d="M30.0,-9.6 C31.0,-8.4 33.7,-4.7 35.8,-2.3 C37.9,0.1 40.1,2.9 42.4,5.0 C44.7,7.1 48.5,9.2 49.7,10.1" fill="none" stroke="#a03e50" stroke-width="1.1" stroke-opacity="0.85"/>
<path d="M33.0,-13.0 C33.4,-12.8 33.8,-13.0 35.1,-11.8 C36.4,-10.6 38.7,-8.1 41.0,-6.0 C43.3,-3.9 46.2,-1.2 49.0,0.6 C51.8,2.4 55.2,3.9 57.7,5.0 C60.2,6.1 63.2,6.8 64.3,7.2" fill="none" stroke="#a03e50" stroke-width="1.1" stroke-opacity="0.85"/>
<path d="M38.0,-13.0 C38.4,-12.8 38.5,-13.0 40.2,-11.8 C41.9,-10.6 45.3,-8.0 48.2,-6.0 C51.1,-4.0 54.4,-1.8 57.7,-0.1 C61.0,1.6 65.3,3.0 68.0,3.9 C70.7,4.8 72.8,4.8 73.8,5.0" fill="none" stroke="#a03e50" stroke-width="1.1" stroke-opacity="0.85"/>
<path d="M47.0,-13.0 C47.3,-12.8 47.3,-12.7 49.0,-11.8 C50.7,-10.9 54.1,-8.9 57.0,-7.4 C59.9,-5.9 63.2,-4.3 66.5,-3.0 C69.8,-1.7 75.0,0.0 76.7,0.6" fill="none" stroke="#a03e50" stroke-width="1.1" stroke-opacity="0.85"/>
<path d="M64.0,-13.0 C64.4,-12.9 64.9,-13.1 66.5,-12.5 C68.1,-11.9 72.0,-10.6 73.8,-9.6 C75.6,-8.6 76.2,-8.3 77.4,-6.7 C78.6,-5.1 80.4,-1.2 81.0,-0.1" fill="none" stroke="#a03e50" stroke-width="1.1" stroke-opacity="0.85"/>
<path d="M81.0,-13.0 C81.2,-12.8 81.4,-12.9 82.5,-11.8 C83.6,-10.8 86.5,-8.5 87.6,-6.7 C88.7,-4.9 88.8,-1.9 89.0,-0.9" fill="none" stroke="#a03e50" stroke-width="1.1" stroke-opacity="0.85"/>
<path d="M86.0,-13.0 C86.3,-12.8 86.1,-12.7 87.6,-11.8 C89.1,-10.9 92.2,-8.9 94.9,-7.4 C97.6,-5.9 99.6,-4.0 103.7,-3.0 C107.8,-2.0 117.0,-1.8 119.7,-1.6" fill="none" stroke="#a03e50" stroke-width="1.1" stroke-opacity="0.85"/>
<path d="M94.0,-13.0 C94.5,-12.6 95.8,-11.7 97.0,-10.5 C98.2,-9.3 99.7,-7.2 101.0,-6.0 C102.3,-4.8 104.3,-3.9 105.0,-3.5" fill="none" stroke="#a03e50" stroke-width="1.1" stroke-opacity="0.85"/>
<path d="M105.0,-13.0 C105.3,-12.8 105.6,-12.4 106.6,-11.8 C107.6,-11.2 108.8,-10.2 111.0,-9.6 C113.2,-9.0 118.2,-8.4 119.7,-8.2" fill="none" stroke="#a03e50" stroke-width="1.1" stroke-opacity="0.85"/>
<path d="M36.6,-0.9 C37.1,0.6 38.8,5.5 39.5,7.9 C40.2,10.3 40.8,12.7 41.0,13.7" fill="none" stroke="#a03e50" stroke-width="1.1" stroke-opacity="0.85"/>
<path d="M48.2,-0.1 C48.8,1.2 50.9,5.6 51.9,7.9 C52.9,10.2 53.6,12.7 54.0,13.7" fill="none" stroke="#a03e50" stroke-width="1.1" stroke-opacity="0.85"/>
</g>
<g transform="translate(306.5,580.0)" clip-path="url(#c2)">
<path d="M14.3,-13.0 C14.3,-10.8 14.2,-2.6 14.3,0.2 C14.3,3.0 14.0,2.2 14.6,3.7 C15.2,5.2 16.9,7.5 18.0,9.4 C19.1,11.3 20.3,13.3 21.2,15.2 C22.1,17.1 22.5,19.0 23.2,20.9 C23.9,22.8 24.7,24.7 25.5,26.6 C26.3,28.5 27.3,30.4 28.3,32.3 C29.2,34.2 30.3,36.2 31.2,38.1 C32.2,40.0 33.1,41.9 34.0,43.8 C34.9,45.7 35.7,47.8 36.4,49.7 C37.1,51.6 37.8,53.5 38.4,55.4 C39.0,57.3 39.7,59.3 40.2,61.2 C40.7,63.1 41.0,65.0 41.3,66.9 C41.6,68.8 42.0,70.7 42.2,72.6 C42.4,74.5 42.5,76.4 42.7,78.3 C42.9,80.2 43.1,81.4 43.3,84.0 C43.5,86.6 43.6,90.3 43.7,94.0 C43.8,97.7 43.7,102.2 43.7,105.9 C43.7,109.6 43.7,111.5 43.7,116.2 C43.7,120.9 43.7,128.5 43.8,134.0 C43.9,139.5 44.1,144.5 44.4,149.0 C44.7,153.5 44.8,156.4 45.4,161.0 C46.0,165.6 46.9,171.1 48.1,176.6 C49.3,182.1 50.8,188.2 52.5,194.0 C54.2,199.8 56.5,205.8 58.3,211.6 C60.1,217.4 61.8,223.3 63.1,229.0 C64.4,234.7 65.5,243.2 66.0,246.0 L91.6,246.0 C91.1,243.2 89.6,234.7 88.7,229.0 C87.8,223.3 87.0,217.4 86.4,211.6 C85.8,205.8 85.5,199.8 85.2,194.0 C84.8,188.2 84.6,182.4 84.3,176.6 C84.0,170.8 83.8,164.8 83.5,159.0 C83.2,153.2 82.9,145.7 82.6,141.5 C82.3,137.3 82.1,136.9 81.9,134.0 C81.7,131.1 81.5,127.0 81.2,124.0 C80.8,121.0 80.3,119.2 79.8,116.2 C79.3,113.2 78.8,109.4 78.3,105.9 C77.8,102.5 77.4,99.0 76.8,95.5 C76.2,92.0 75.4,88.6 74.7,85.2 C74.0,81.8 73.2,78.3 72.6,74.9 C72.0,71.5 71.3,67.2 70.8,64.6 C70.3,61.9 70.1,61.1 69.8,59.0 C69.5,56.9 69.2,54.3 68.8,52.0 C68.4,49.7 67.8,47.3 67.4,45.0 C67.0,42.7 66.7,40.6 66.3,38.4 C65.9,36.1 65.5,33.8 64.9,31.5 C64.3,29.2 63.6,26.9 62.9,24.6 C62.2,22.3 61.5,19.8 60.8,17.7 C60.0,15.6 58.8,13.1 58.4,12.2 C61,11.6 65,10.6 68.5,9 C72,7.4 75,5.5 78,3.3 C80.5,1.5 82.5,0.3 86,0 L120,0 L120,-13 Z" fill="#d0a2a5" fill-opacity="0.91"/>
<path d="M14.3,-13.0 C14.3,-10.8 14.2,-2.6 14.3,0.2 C14.3,3.0 14.0,2.2 14.6,3.7 C15.2,5.2 16.9,7.5 18.0,9.4 C19.1,11.3 20.3,13.3 21.2,15.2 C22.1,17.1 22.5,19.0 23.2,20.9 C23.9,22.8 24.7,24.7 25.5,26.6 C26.3,28.5 27.3,30.4 28.3,32.3 C29.2,34.2 30.3,36.2 31.2,38.1 C32.2,40.0 33.1,41.9 34.0,43.8 C34.9,45.7 35.7,47.8 36.4,49.7 C37.1,51.6 37.8,53.5 38.4,55.4 C39.0,57.3 39.7,59.3 40.2,61.2 C40.7,63.1 41.0,65.0 41.3,66.9 C41.6,68.8 42.0,70.7 42.2,72.6 C42.4,74.5 42.5,76.4 42.7,78.3 C42.9,80.2 43.1,81.4 43.3,84.0 C43.5,86.6 43.6,90.3 43.7,94.0 C43.8,97.7 43.7,102.2 43.7,105.9 C43.7,109.6 43.7,111.5 43.7,116.2 C43.7,120.9 43.7,128.5 43.8,134.0 C43.9,139.5 44.1,144.5 44.4,149.0 C44.7,153.5 44.8,156.4 45.4,161.0 C46.0,165.6 46.9,171.1 48.1,176.6 C49.3,182.1 50.8,188.2 52.5,194.0 C54.2,199.8 56.5,205.8 58.3,211.6 C60.1,217.4 61.8,223.3 63.1,229.0 C64.4,234.7 65.5,243.2 66.0,246.0 L91.6,246.0 C91.1,243.2 89.6,234.7 88.7,229.0 C87.8,223.3 87.0,217.4 86.4,211.6 C85.8,205.8 85.5,199.8 85.2,194.0 C84.8,188.2 84.6,182.4 84.3,176.6 C84.0,170.8 83.8,164.8 83.5,159.0 C83.2,153.2 82.9,145.7 82.6,141.5 C82.3,137.3 82.1,136.9 81.9,134.0 C81.7,131.1 81.5,127.0 81.2,124.0 C80.8,121.0 80.3,119.2 79.8,116.2 C79.3,113.2 78.8,109.4 78.3,105.9 C77.8,102.5 77.4,99.0 76.8,95.5 C76.2,92.0 75.4,88.6 74.7,85.2 C74.0,81.8 73.2,78.3 72.6,74.9 C72.0,71.5 71.3,67.2 70.8,64.6 C70.3,61.9 70.1,61.1 69.8,59.0 C69.5,56.9 69.2,54.3 68.8,52.0 C68.4,49.7 67.8,47.3 67.4,45.0 C67.0,42.7 66.7,40.6 66.3,38.4 C65.9,36.1 65.5,33.8 64.9,31.5 C64.3,29.2 63.6,26.9 62.9,24.6 C62.2,22.3 61.5,19.8 60.8,17.7 C60.0,15.6 58.8,13.1 58.4,12.2 C61,11.6 65,10.6 68.5,9 C72,7.4 75,5.5 78,3.3 C80.5,1.5 82.5,0.3 86,0 L120,0 L120,-13 Z" fill="url(#bgc2)"/>
<ellipse cx="29.5" cy="-3.5" rx="5" ry="4.5" fill="#e6c3c7" fill-opacity="0.55"/>
<path d="M50,-2 C55,3 57,9 58.4,12.2 C61,11.6 65,10.6 68.5,9 C72,7.4 75,5.5 78,3.3 C80.5,1.5 82.5,0.3 86,0 L120,0 L120,-4 C100,-3 80,-4 65,-6 Z" fill="#b46c76" fill-opacity="0.3"/>
<path d="M14.3,-13.0 C14.3,-10.8 14.2,-2.6 14.3,0.2 C14.3,3.0 14.0,2.2 14.6,3.7 C15.2,5.2 16.9,7.5 18.0,9.4 C19.1,11.3 20.3,13.3 21.2,15.2 C22.1,17.1 22.5,19.0 23.2,20.9 C23.9,22.8 24.7,24.7 25.5,26.6 C26.3,28.5 27.3,30.4 28.3,32.3 C29.2,34.2 30.3,36.2 31.2,38.1 C32.2,40.0 33.1,41.9 34.0,43.8 C34.9,45.7 35.7,47.8 36.4,49.7 C37.1,51.6 38.1,54.5 38.4,55.4 L39.6,54.3 C39.5,53.5 39.6,51.5 39.2,49.7 C38.8,48.0 38.0,45.7 37.3,43.8 C36.5,41.9 35.6,40.0 34.7,38.1 C33.8,36.2 32.7,34.2 31.7,32.3 C30.7,30.4 29.7,28.5 28.8,26.6 C27.9,24.7 27.2,22.8 26.4,20.9 C25.6,19.0 25.2,17.3 24.2,15.2 C23.2,13.0 21.5,10.5 20.5,8.0 C19.5,5.5 18.5,3.5 18.0,0.0 C17.5,-3.5 17.6,-10.8 17.5,-13.0 Z" fill="#e8c4c8" fill-opacity="0.2"/>
<path d="M17.5,-13.0 C17.6,-10.8 17.5,-3.5 18.0,0.0 C18.5,3.5 19.5,5.5 20.5,8.0 C21.5,10.5 23.2,13.0 24.2,15.2 C25.2,17.3 25.6,19.0 26.4,20.9 C27.2,22.8 27.9,24.7 28.8,26.6 C29.7,28.5 30.7,30.4 31.7,32.3 C32.7,34.2 33.8,36.2 34.7,38.1 C35.6,40.0 36.5,41.9 37.3,43.8 C38.0,45.7 38.8,48.0 39.2,49.7 C39.6,51.5 39.5,53.5 39.6,54.3 Q42,55.5 44,54.8 Q45,53 46.1,53.3 Q47.5,54.8 49.2,53.8 Q51,52 52.3,52.8 Q54,52.5 55.4,50.7 Q57,50.8 58.5,49.7 Q60.5,48.5 61,46.6 L61.0,46.6 C61.2,45.9 61.9,44.4 62.1,42.5 C62.3,40.6 62.4,38.1 62.1,35.2 C61.8,32.3 61.3,29.1 60.5,24.9 C59.7,20.7 58.6,16.3 57.5,10.0 C56.4,3.7 54.6,-9.2 54.0,-13.0 Z" fill="#b06670" fill-opacity="0.26" stroke="#a65660" stroke-width="1.0"/>
<path d="M26.5,-12.5 Q44.5,39.4 44.0,53.8" fill="none" stroke="#ac5c66" stroke-width="0.8" stroke-opacity="0.8"/>
<path d="M35.8,-8.0 Q48.0,38.1 48.1,51.7" fill="none" stroke="#ac5c66" stroke-width="0.8" stroke-opacity="0.8"/>
<path d="M44.0,2.0 Q53.8,33.4 53.3,51.2" fill="none" stroke="#ac5c66" stroke-width="0.8" stroke-opacity="0.8"/>
<path d="M51.6,56.0 C52.3,59.2 54.9,68.4 56.0,75.0 C57.1,81.6 57.6,88.7 58.3,95.5 C59.0,102.3 59.8,109.6 60.3,116.0 C60.8,122.4 61.0,126.8 61.6,134.0 C62.1,141.2 62.7,149.0 63.6,159.0 C64.5,169.0 66.0,183.5 67.2,194.0 C68.4,204.5 70.2,217.3 70.8,222.0" fill="none" stroke="#e6bcc1" stroke-width="5.5" stroke-opacity="0.4" stroke-linecap="round"/>
<path d="M14.7,0.2 C14.7,0.8 14.4,2.2 15.0,3.7 C15.6,5.2 17.3,7.5 18.4,9.4 C19.5,11.3 20.7,13.3 21.6,15.2 C22.5,17.1 22.9,19.0 23.6,20.9 C24.3,22.8 25.1,24.7 25.9,26.6 C26.7,28.5 27.7,30.4 28.7,32.3 C29.6,34.2 30.7,36.2 31.6,38.1 C32.6,40.0 33.5,41.9 34.4,43.8 C35.3,45.7 36.1,47.8 36.8,49.7 C37.5,51.6 38.2,53.5 38.8,55.4 C39.4,57.3 40.1,59.3 40.6,61.2 C41.1,63.1 41.4,65.0 41.7,66.9 C42.0,68.8 42.4,70.7 42.6,72.6 C42.8,74.5 42.9,76.4 43.1,78.3 C43.3,80.2 43.5,81.4 43.7,84.0 C43.9,86.6 44.0,90.3 44.1,94.0 C44.2,97.7 44.1,102.2 44.1,105.9 C44.1,109.6 44.1,111.5 44.1,116.2 C44.1,120.9 44.1,128.5 44.2,134.0 C44.3,139.5 44.5,144.5 44.8,149.0 C45.1,153.5 45.2,156.4 45.8,161.0 C46.4,165.6 47.3,171.1 48.5,176.6 C49.7,182.1 51.2,188.2 52.9,194.0 C54.6,199.8 56.9,205.8 58.7,211.6 C60.5,217.4 62.2,223.3 63.5,229.0 C64.8,234.7 65.9,243.2 66.4,246.0" fill="none" stroke="#9e5660" stroke-width="1.0" stroke-opacity="0.9"/>
<path d="M91.2,246.0 C90.7,243.2 89.2,234.7 88.3,229.0 C87.4,223.3 86.6,217.4 86.0,211.6 C85.4,205.8 85.1,199.8 84.8,194.0 C84.4,188.2 84.2,182.4 83.9,176.6 C83.6,170.8 83.4,164.8 83.1,159.0 C82.8,153.2 82.5,145.7 82.2,141.5 C81.9,137.3 81.7,136.9 81.5,134.0 C81.3,131.1 81.1,127.0 80.8,124.0 C80.4,121.0 79.9,119.2 79.4,116.2 C78.9,113.2 78.4,109.4 77.9,105.9 C77.4,102.5 77.0,99.0 76.4,95.5 C75.8,92.0 75.0,88.6 74.3,85.2 C73.6,81.8 72.8,78.3 72.2,74.9 C71.5,71.5 70.9,67.2 70.4,64.6 C69.9,61.9 69.7,61.1 69.4,59.0 C69.1,56.9 68.8,54.3 68.4,52.0 C68.0,49.7 67.4,47.3 67.0,45.0 C66.6,42.7 66.3,40.6 65.9,38.4 C65.5,36.1 65.1,33.8 64.5,31.5 C63.9,29.2 63.2,26.9 62.5,24.6 C61.8,22.3 60.8,18.9 60.4,17.7" fill="none" stroke="#9e5660" stroke-width="1.0" stroke-opacity="0.9"/>
<path d="M32.5,38.1 C32.9,39.0 34.4,41.9 35.2,43.8 C36.1,45.7 36.9,47.8 37.7,49.7 C38.4,51.6 39.0,53.5 39.7,55.4 C40.3,57.3 41.0,59.3 41.5,61.2 C41.9,63.1 42.2,65.0 42.5,66.9 C42.9,68.8 43.2,70.7 43.5,72.6 C43.7,74.5 43.8,76.4 44.0,78.3 C44.1,80.2 44.4,81.4 44.5,84.0 C44.7,86.6 44.9,90.3 45.0,94.0 C45.0,97.7 45.0,102.2 45.0,105.9 C45.0,109.6 44.9,111.5 45.0,116.2 C45.0,120.9 44.9,128.5 45.0,134.0 C45.2,139.5 45.4,144.5 45.7,149.0 C45.9,153.5 46.0,156.4 46.7,161.0 C47.3,165.6 48.2,171.1 49.3,176.6 C50.5,182.1 52.0,188.2 53.8,194.0 C55.5,199.8 57.8,205.8 59.5,211.6 C61.3,217.4 63.1,223.3 64.3,229.0 C65.6,234.7 66.8,243.2 67.2,246.0" fill="none" stroke="url(#ebc2)" stroke-width="2.5"/>
<path d="M90.3,246.0 C89.8,243.2 88.3,234.7 87.4,229.0 C86.5,223.3 85.7,217.4 85.1,211.6 C84.5,205.8 84.2,199.8 83.9,194.0 C83.5,188.2 83.3,182.4 83.0,176.6 C82.7,170.8 82.5,164.8 82.2,159.0 C81.9,153.2 81.6,145.7 81.3,141.5 C81.0,137.3 80.8,136.9 80.6,134.0 C80.4,131.1 80.2,127.0 79.9,124.0 C79.5,121.0 79.0,119.2 78.5,116.2 C78.0,113.2 77.5,109.4 77.0,105.9 C76.5,102.5 76.1,99.0 75.5,95.5 C74.9,92.0 74.1,88.6 73.4,85.2 C72.7,81.8 71.9,78.3 71.3,74.9 C70.7,71.5 70.0,67.2 69.5,64.6 C69.0,61.9 68.8,61.1 68.5,59.0 C68.2,56.9 67.9,54.3 67.5,52.0 C67.1,49.7 66.5,47.3 66.1,45.0 C65.7,42.7 65.2,39.5 65.0,38.4" fill="none" stroke="url(#ebc2)" stroke-width="2.6"/>
<path d="M58.4,12.2 C61,11.6 65,10.6 68.5,9 C72,7.4 75,5.5 78,3.3 C80.5,1.5 82.5,0.3 86,0 L120,0" fill="none" stroke="#ac5c66" stroke-width="1.2"/>
<path d="M30.0,-9.6 C31.0,-8.4 33.7,-4.7 35.8,-2.3 C37.9,0.1 40.1,2.9 42.4,5.0 C44.7,7.1 48.5,9.2 49.7,10.1" fill="none" stroke="#a03e50" stroke-width="1.1" stroke-opacity="0.85"/>
<path d="M33.0,-13.0 C33.4,-12.8 33.8,-13.0 35.1,-11.8 C36.4,-10.6 38.7,-8.1 41.0,-6.0 C43.3,-3.9 46.2,-1.2 49.0,0.6 C51.8,2.4 55.2,3.9 57.7,5.0 C60.2,6.1 63.2,6.8 64.3,7.2" fill="none" stroke="#a03e50" stroke-width="1.1" stroke-opacity="0.85"/>
<path d="M38.0,-13.0 C38.4,-12.8 38.5,-13.0 40.2,-11.8 C41.9,-10.6 45.3,-8.0 48.2,-6.0 C51.1,-4.0 54.4,-1.8 57.7,-0.1 C61.0,1.6 65.3,3.0 68.0,3.9 C70.7,4.8 72.8,4.8 73.8,5.0" fill="none" stroke="#a03e50" stroke-width="1.1" stroke-opacity="0.85"/>
<path d="M47.0,-13.0 C47.3,-12.8 47.3,-12.7 49.0,-11.8 C50.7,-10.9 54.1,-8.9 57.0,-7.4 C59.9,-5.9 63.2,-4.3 66.5,-3.0 C69.8,-1.7 75.0,0.0 76.7,0.6" fill="none" stroke="#a03e50" stroke-width="1.1" stroke-opacity="0.85"/>
<path d="M64.0,-13.0 C64.4,-12.9 64.9,-13.1 66.5,-12.5 C68.1,-11.9 72.0,-10.6 73.8,-9.6 C75.6,-8.6 76.2,-8.3 77.4,-6.7 C78.6,-5.1 80.4,-1.2 81.0,-0.1" fill="none" stroke="#a03e50" stroke-width="1.1" stroke-opacity="0.85"/>
<path d="M81.0,-13.0 C81.2,-12.8 81.4,-12.9 82.5,-11.8 C83.6,-10.8 86.5,-8.5 87.6,-6.7 C88.7,-4.9 88.8,-1.9 89.0,-0.9" fill="none" stroke="#a03e50" stroke-width="1.1" stroke-opacity="0.85"/>
<path d="M86.0,-13.0 C86.3,-12.8 86.1,-12.7 87.6,-11.8 C89.1,-10.9 92.2,-8.9 94.9,-7.4 C97.6,-5.9 99.6,-4.0 103.7,-3.0 C107.8,-2.0 117.0,-1.8 119.7,-1.6" fill="none" stroke="#a03e50" stroke-width="1.1" stroke-opacity="0.85"/>
<path d="M94.0,-13.0 C94.5,-12.6 95.8,-11.7 97.0,-10.5 C98.2,-9.3 99.7,-7.2 101.0,-6.0 C102.3,-4.8 104.3,-3.9 105.0,-3.5" fill="none" stroke="#a03e50" stroke-width="1.1" stroke-opacity="0.85"/>
<path d="M105.0,-13.0 C105.3,-12.8 105.6,-12.4 106.6,-11.8 C107.6,-11.2 108.8,-10.2 111.0,-9.6 C113.2,-9.0 118.2,-8.4 119.7,-8.2" fill="none" stroke="#a03e50" stroke-width="1.1" stroke-opacity="0.85"/>
<path d="M36.6,-0.9 C37.1,0.6 38.8,5.5 39.5,7.9 C40.2,10.3 40.8,12.7 41.0,13.7" fill="none" stroke="#a03e50" stroke-width="1.1" stroke-opacity="0.85"/>
<path d="M48.2,-0.1 C48.8,1.2 50.9,5.6 51.9,7.9 C52.9,10.2 53.6,12.7 54.0,13.7" fill="none" stroke="#a03e50" stroke-width="1.1" stroke-opacity="0.85"/>
</g>
<text x="0" y="0" transform="translate(105.0,598.8) scale(0.96,1.18)" font-size="8" text-anchor="middle" fill="#000" stroke="#000" stroke-width="0.1">Medulla</text>
<text x="0" y="0" transform="translate(113.3,625.0) scale(0.96,1.18)" font-size="8" text-anchor="middle" fill="#000" stroke="#000" stroke-width="0.1">C1</text>
<text x="0" y="0" transform="translate(121.4,657.5) scale(0.96,1.18)" font-size="8" text-anchor="middle" fill="#000" stroke="#000" stroke-width="0.1">C2</text>
<text x="0" y="0" transform="translate(123.8,689.4) scale(0.96,1.18)" font-size="8" text-anchor="middle" fill="#000" stroke="#000" stroke-width="0.1">C3</text>
<text x="0" y="0" transform="translate(126.4,718.2) scale(0.96,1.18)" font-size="8" text-anchor="middle" fill="#000" stroke="#000" stroke-width="0.1">C4</text>
<text x="0" y="0" transform="translate(129.2,746.8) scale(0.96,1.18)" font-size="8" text-anchor="middle" fill="#000" stroke="#000" stroke-width="0.1">C5</text>
<text x="0" y="0" transform="translate(132.6,781.8) scale(0.96,1.18)" font-size="8" text-anchor="middle" fill="#000" stroke="#000" stroke-width="0.1">C6</text>
<text x="0" y="0" transform="translate(138.4,810.8) scale(0.96,1.18)" font-size="8" text-anchor="middle" fill="#000" stroke="#000" stroke-width="0.1">C7</text>
<text x="0" y="0" transform="translate(346.5,598.8) scale(0.96,1.18)" font-size="8" text-anchor="middle" fill="#000" stroke="#000" stroke-width="0.1">Medulla</text>
<text x="0" y="0" transform="translate(354.8,625.0) scale(0.96,1.18)" font-size="8" text-anchor="middle" fill="#000" stroke="#000" stroke-width="0.1">C1</text>
<text x="0" y="0" transform="translate(362.9,657.5) scale(0.96,1.18)" font-size="8" text-anchor="middle" fill="#000" stroke="#000" stroke-width="0.1">C2</text>
<text x="0" y="0" transform="translate(365.3,689.4) scale(0.96,1.18)" font-size="8" text-anchor="middle" fill="#000" stroke="#000" stroke-width="0.1">C3</text>
<text x="0" y="0" transform="translate(367.9,718.2) scale(0.96,1.18)" font-size="8" text-anchor="middle" fill="#000" stroke="#000" stroke-width="0.1">C4</text>
<text x="0" y="0" transform="translate(370.7,746.8) scale(0.96,1.18)" font-size="8" text-anchor="middle" fill="#000" stroke="#000" stroke-width="0.1">C5</text>
<text x="0" y="0" transform="translate(374.1,781.8) scale(0.96,1.18)" font-size="8" text-anchor="middle" fill="#000" stroke="#000" stroke-width="0.1">C6</text>
<text x="0" y="0" transform="translate(379.9,810.8) scale(0.96,1.18)" font-size="8" text-anchor="middle" fill="#000" stroke="#000" stroke-width="0.1">C7</text>
<text x="190.5" y="599.6" font-size="14" fill="#fff">50 %</text>
<text x="471.3" y="599.6" font-size="14" text-anchor="end" fill="#fff">16.3%</text>
<text class="ser" x="270.25" y="599.4" font-size="8.4" text-anchor="middle" textLength="29.6" lengthAdjust="spacingAndGlyphs" fill="#222" stroke="#222" stroke-width="0.3">p = 0.029</text>
<text x="229.5" y="630.2" font-size="14" text-anchor="end" fill="#fff">85.7%</text>
<text x="471.3" y="630.2" font-size="14" text-anchor="end" fill="#fff">21.7%</text>
<text class="ser" x="270.6" y="629.7" font-size="8.4" text-anchor="middle" textLength="30" lengthAdjust="spacingAndGlyphs" fill="#7e7e7e">p = 0.354</text>
<text x="229.5" y="660.9" font-size="14" text-anchor="end" fill="#fff">85.7%</text>
<text x="471.3" y="660.9" font-size="14" text-anchor="end" fill="#fff">23.9%</text>
<text class="ser" x="271.65" y="659.7" font-size="8.4" text-anchor="middle" textLength="30" lengthAdjust="spacingAndGlyphs" fill="#7e7e7e">p = 0.078</text>
<text x="229.5" y="691.5" font-size="14" text-anchor="end" fill="#fff">85.7%</text>
<text x="471.3" y="691.5" font-size="14" text-anchor="end" fill="#fff">21.7%</text>
<text class="ser" x="271.65" y="689.1" font-size="8.4" text-anchor="middle" textLength="30" lengthAdjust="spacingAndGlyphs" fill="#7e7e7e">p = 0.080</text>
<text x="229.5" y="722.1" font-size="14" text-anchor="end" fill="#fff">71.4%</text>
<text x="471.3" y="722.1" font-size="14" text-anchor="end" fill="#fff">15.2%</text>
<text class="ser" x="271.65" y="718.9" font-size="8.4" text-anchor="middle" textLength="29.6" lengthAdjust="spacingAndGlyphs" fill="#111" stroke="#111" stroke-width="0.2">p = 0.047</text>
<text x="229.5" y="752.7" font-size="14" text-anchor="end" fill="#fff">71.4%</text>
<text x="471.3" y="752.7" font-size="14" text-anchor="end" fill="#fff">8.7%</text>
<text class="ser" x="271.65" y="753.1" font-size="8.4" text-anchor="middle" textLength="29.6" lengthAdjust="spacingAndGlyphs" fill="#111" stroke="#111" stroke-width="0.2">p = 0.037</text>
<text x="229.5" y="783.4" font-size="14" text-anchor="end" fill="#fff">57.1%</text>
<text x="471.3" y="783.4" font-size="14" text-anchor="end" fill="#fff">10.9%</text>
<text class="ser" x="270.25" y="781.7" font-size="8.4" text-anchor="middle" textLength="29.6" lengthAdjust="spacingAndGlyphs" fill="#111" stroke="#111" stroke-width="0.2">p = 0.041</text>
<text x="229.5" y="814.0" font-size="14" text-anchor="end" fill="#fff">42.9%</text>
<text x="471.3" y="814.0" font-size="14" text-anchor="end" fill="#fff">8.7%</text>
<text class="ser" x="270.25" y="813.6" font-size="8.4" text-anchor="middle" textLength="30" lengthAdjust="spacingAndGlyphs" fill="#7e7e7e">p = 0.623</text>
<text x="0" y="0" font-size="15" text-anchor="middle" textLength="163.2" lengthAdjust="spacingAndGlyphs" fill="#000" stroke="#000" stroke-width="0.15" transform="translate(37.6,703.8) rotate(-90)">Gadolinium enhancement</text>
<rect x="149.2" y="836" width="1.3" height="3.5" fill="#333"/>
<rect x="391" y="836" width="1.3" height="3.5" fill="#333"/>
<rect x="66.5" y="841.5" width="167.5" height="27" fill="#ebf1fb" stroke="#a9bfe3" stroke-width="1"/>
<rect x="308" y="841.5" width="167.5" height="27" fill="#ebf1fb" stroke="#a9bfe3" stroke-width="1"/>
<text x="150.4" y="859.5" font-size="16" text-anchor="middle" textLength="109.5" lengthAdjust="spacingAndGlyphs" fill="#111">OTI-attacks (n=8)</text>
<text x="391.9" y="859.5" font-size="16" text-anchor="middle" textLength="140.5" lengthAdjust="spacingAndGlyphs" fill="#111">Non-OTI-attacks (n=8)</text>
<text x="557.9" y="367.6" font-size="14" textLength="122.6" lengthAdjust="spacingAndGlyphs" fill="#111">Percentage per level</text>
<rect x="557" y="376" width="21.7" height="107" fill="url(#cb)"/>
<rect x="557" y="455.8" width="4.3" height="1" fill="#fff" fill-opacity="0.85"/>
<rect x="574.4" y="455.8" width="4.3" height="1" fill="#fff" fill-opacity="0.85"/>
<rect x="557" y="429.0" width="4.3" height="1" fill="#fff" fill-opacity="0.85"/>
<rect x="574.4" y="429.0" width="4.3" height="1" fill="#fff" fill-opacity="0.85"/>
<rect x="557" y="402.2" width="4.3" height="1" fill="#fff" fill-opacity="0.85"/>
<rect x="574.4" y="402.2" width="4.3" height="1" fill="#fff" fill-opacity="0.85"/>
<text x="585.8" y="487.6" font-size="11" fill="#222">0</text>
<text x="585.8" y="460.9" font-size="11" fill="#222">25</text>
<text x="585.8" y="434.1" font-size="11" fill="#222">50</text>
<text x="585.8" y="407.4" font-size="11" fill="#222">75</text>
<text x="585.8" y="380.6" font-size="11" fill="#222">100</text>
</svg></body></html>
